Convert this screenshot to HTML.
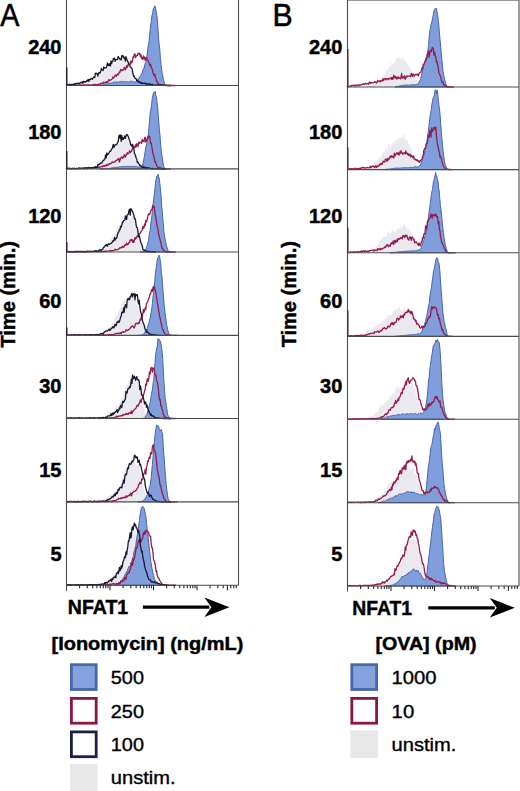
<!DOCTYPE html>
<html><head><meta charset="utf-8"><style>
html,body{margin:0;padding:0;background:#fff;width:520px;height:791px;overflow:hidden}
svg{display:block}
text{font-family:"Liberation Sans", sans-serif;fill:#000}
.b{font-weight:bold;stroke:#000;stroke-width:0.45px}
.r{stroke:#000;stroke-width:0.35px}
.lab{font-size:20px}
.tm{font-size:19.5px}
.nf{font-size:20px}
.lg{font-size:19px}
.lt{font-size:18px}
</style></head><body>
<svg width="520" height="791" viewBox="0 0 520 791">
<path d="M70,85.5 L70,85.5 70.6,85.5 71.2,85.3 71.8,85.2 72.4,85.3 73,85.1 73.6,84.7 74.2,84.7 74.8,84.7 75.4,84.6 76,85 76.6,84.2 77.2,85 77.8,84.5 78.4,84.4 79,84.8 79.6,84 80.2,83.1 80.8,83.8 81.4,84.1 82,83.4 82.6,82.7 83.2,82.9 83.8,82.8 84.4,83.5 85,82.1 85.6,81.9 86.2,81.1 86.8,80.8 87.4,81.1 88,82.5 88.6,82.1 89.2,81.5 89.8,80.1 90.4,80.6 91,78.5 91.6,79 92.2,78.5 92.8,77.8 93.4,77.7 94,79 94.6,74.7 95.2,75.3 95.8,74.7 96.4,76.7 97,77.5 97.6,76.8 98.2,75.9 98.8,73.2 99.4,72.7 100,71.5 100.6,70.2 101.2,71.7 101.8,71.4 102.4,71.9 103,71.3 103.6,72 104.2,69.2 104.8,69 105.4,69.5 106,69.6 106.6,67.2 107.2,65.5 107.8,66.8 108.4,66 109,66.7 109.6,65.7 110.2,65.3 110.8,64.6 111.4,64.5 112,62.3 112.6,60.2 113.2,63.4 113.8,58.9 114.4,61.5 115,61 115.6,63.8 116.2,64 116.8,58.2 117.4,61.3 118,57.7 118.6,59 119.2,58.5 119.8,56.4 120.4,58.8 121,64.5 121.6,61.7 122.2,56.7 122.8,54.9 123.4,58.8 124,60.1 124.6,61.8 125.2,58.8 125.8,63.5 126.4,63.1 127,61.4 127.6,62.2 128.2,63.8 128.8,62.6 129.4,67.4 130,68.3 130.6,68.3 131.2,69 131.8,71 132.4,69.5 133,74.2 133.6,74.3 134.2,77.1 134.8,77.7 135.4,79.8 136,80.8 136.6,80.2 137.2,82.4 137.8,81.9 138.4,83.9 139,84.2 139.6,84 140.2,85.5 140.8,85.5 141.4,85.3 142,85.5 L142,85.5 Z" fill="#eae9ef"/>
<path d="M95,85.5 L95,85.5 95.6,85.5 96.2,85.4 96.8,85.5 97.4,85.4 98,85.3 98.6,85.3 99.2,85.2 99.8,85.4 100.4,85 101,84.9 101.6,85.2 102.2,84.9 102.8,84.9 103.4,84.7 104,84.4 104.6,84.5 105.2,84.4 105.8,84 106.4,83.8 107,84 107.6,83.7 108.2,83.9 108.8,83.3 109.4,82.9 110,83.1 110.6,83.1 111.2,83.4 111.8,82.9 112.4,83.2 113,82.3 113.6,81.9 114.2,81.9 114.8,82.2 115.4,82 116,82.3 116.6,81.9 117.2,81.9 117.8,81.9 118.4,82.6 119,81.7 119.6,81.6 120.2,81.9 120.8,81.5 121.4,81.4 122,82.2 122.6,81.3 123.2,81.7 123.8,81.9 124.4,81.5 125,81.8 125.6,81.7 126.2,81.8 126.8,81.7 127.4,81.9 128,81.7 128.6,81.9 129.2,81.9 129.8,81.2 130.4,81.5 131,81.4 131.6,81 132.2,81.3 132.8,81.6 133.4,82.1 134,81.6 134.6,81.9 135.2,81.8 135.8,82.1 136.4,81.7 137,81.6 137.6,80 138.2,80 138.8,78.7 139.4,77.3 140,76.5 140.6,75.5 141.2,74.2 141.8,74.2 142.4,71.9 143,69.8 143.6,68.2 144.2,68.2 144.8,64.6 145.4,62.7 146,61.3 146.6,58.6 147.2,54 147.8,48.6 148.4,44.9 149,41.6 149.6,35.6 150.2,29.4 150.8,25 151.4,20.4 152,14.9 152.6,14.7 153.2,8.8 153.8,9 154.4,6 155,5.9 155.6,8.4 156.2,11.6 156.8,15.2 157.4,19.6 158,29.4 158.6,38.4 159.2,44.5 159.8,49.8 160.4,58.3 161,64.7 161.6,68.7 162.2,73.4 162.8,75.9 163.4,79.3 164,81.3 164.6,83.8 165.2,84.9 165.8,85.3 166.4,85.4 167,85.5 167.6,85.5 L167.6,85.5 Z" fill="#7f9edb" stroke="#4565ae" stroke-width="1" stroke-linejoin="round"/>
<path d="M66,85 66.6,85.4 67.2,85.1 67.8,85.4 68.4,85 69,85.5 69.6,85.3 70.2,85.3 70.8,85.5 71.4,85 72,85.4 72.6,85.4 73.2,85.3 73.8,85.1 74.4,85.3 75,84.8 75.6,85.2 76.2,85.2 76.8,85.1 77.4,85.2 78,85.3 78.6,85.2 79.2,85.1 79.8,84.8 80.4,85.1 81,85 81.6,85.5 82.2,85.2 82.8,85.1 83.4,84.8 84,84.8 84.6,85.1 85.2,85 85.8,85.1 86.4,85.2 87,85 87.6,85.1 88.2,85 88.8,84.9 89.4,85.1 90,84.8 90.6,85.2 91.2,85 91.8,84.9 92.4,85.3 93,84.8 93.6,84.7 94.2,84.4 94.8,84.8 95.4,84.6 96,84.5 96.6,85.1 97.2,84.5 97.8,84.9 98.4,84.4 99,84.1 99.6,84.1 100.2,84.8 100.8,83.3 101.4,83.6 102,83.1 102.6,83.6 103.2,83.3 103.8,82 104.4,82.9 105,82.8 105.6,82.6 106.2,81.6 106.8,82.8 107.4,81.9 108,82 108.6,79.6 109.2,80.1 109.8,80.4 110.4,79.9 111,79.8 111.6,79.6 112.2,78.9 112.8,76.9 113.4,78.1 114,77.6 114.6,76.6 115.2,75 115.8,75.3 116.4,76.3 117,74.6 117.6,74 118.2,74.8 118.8,73.6 119.4,71.9 120,72.2 120.6,69.3 121.2,70.3 121.8,70.7 122.4,69.8 123,70.3 123.6,69.5 124.2,67.3 124.8,67.8 125.4,69.8 126,68.6 126.6,65.6 127.2,67.5 127.8,66 128.4,63.7 129,65 129.6,64.5 130.2,64 130.8,61.1 131.4,62.9 132,62.8 132.6,60 133.2,56.5 133.8,57.2 134.4,54.1 135,54 135.6,57.7 136.2,55.6 136.8,55.8 137.4,55.5 138,53.5 138.6,53.1 139.2,54.2 139.8,53.4 140.4,56.6 141,54.8 141.6,58.3 142.2,57.7 142.8,59.6 143.4,55.9 144,58.7 144.6,57 145.2,60.4 145.8,58.2 146.4,57.5 147,59.1 147.6,59.7 148.2,60.8 148.8,62.3 149.4,63.9 150,65.7 150.6,64.4 151.2,67.1 151.8,68.5 152.4,69.6 153,72.9 153.6,74.4 154.2,75.7 154.8,74.2 155.4,77.6 156,78.3 156.6,81.4 157.2,81.7 157.8,82.9 158.4,84.2 159,84.1 159.6,84.8 160.2,84.9 160.8,84.8 161.4,84.8 162,85.1 162.6,85.3 163.2,85.3 163.8,85.1 164.4,85.5 165,85.5 165.6,85.5 166.2,85.3 166.8,85.4 167.4,85.5 168,85.5 168.6,85.5 169.2,85.5 169.8,85.5 170.4,85.5 171,85.5 171.6,85.5 172.2,85.5 172.8,85.5 173.4,85.5 174,85.5 174.6,85.5 175.2,85.5 175.8,85.5" fill="none" stroke="#961c4c" stroke-width="1.3" stroke-linejoin="round"/>
<path d="M66,84.9 66.6,84.8 67.2,85.1 67.8,84.9 68.4,84.8 69,84.8 69.6,84.1 70.2,84.8 70.8,84.7 71.4,84.7 72,84.2 72.6,84.6 73.2,84.4 73.8,84 74.4,84 75,84.5 75.6,83.4 76.2,83.9 76.8,83.5 77.4,83.7 78,82.9 78.6,83.7 79.2,83.8 79.8,83.1 80.4,82.5 81,83 81.6,82.4 82.2,81.8 82.8,83.3 83.4,81.5 84,81.4 84.6,82.2 85.2,81.7 85.8,81.8 86.4,80.7 87,81.4 87.6,80.3 88.2,79.4 88.8,81.5 89.4,79.5 90,79.5 90.6,79.5 91.2,78.3 91.8,78.4 92.4,79.3 93,78 93.6,77 94.2,77.3 94.8,77.5 95.4,73.1 96,73.7 96.6,73.4 97.2,74.2 97.8,76.2 98.4,73.8 99,72.4 99.6,73.1 100.2,72.8 100.8,71.1 101.4,68.4 102,70.1 102.6,69.8 103.2,70.5 103.8,67 104.4,68 105,68 105.6,67.9 106.2,67.8 106.8,66.2 107.4,63 108,65.4 108.6,64.2 109.2,65.7 109.8,63.6 110.4,65.8 111,60.9 111.6,63.5 112.2,61.4 112.8,61.4 113.4,58.5 114,59.1 114.6,58.2 115.2,61.3 115.8,59.9 116.4,59.7 117,59.5 117.6,59.3 118.2,56.3 118.8,58 119.4,57.9 120,59.5 120.6,59.4 121.2,59.9 121.8,55.4 122.4,56.8 123,55.7 123.6,56.6 124.2,58.7 124.8,57.4 125.4,61.2 126,56.7 126.6,59.1 127.2,60.3 127.8,61.9 128.4,62.2 129,64.3 129.6,64.8 130.2,66.9 130.8,67.4 131.4,67.8 132,68.5 132.6,71.8 133.2,74.6 133.8,76.6 134.4,76.3 135,78.4 135.6,78.6 136.2,78.7 136.8,81.2 137.4,80.1 138,80.6 138.6,82.4 139.2,82.3 139.8,81.8 140.4,83 141,83.3 141.6,82.5 142.2,83.4 142.8,83.6 143.4,83.1 144,83.5 144.6,83.5 145.2,83.1 145.8,83.3 146.4,84.6 147,83.6 147.6,84.1 148.2,84.1 148.8,84 149.4,83.7 150,84.1 150.6,84.5 151.2,84.4 151.8,85.1 152.4,84.5 153,84.7 153.6,85.1 154.2,85.2 154.8,85.2 155.4,85.1 156,84.8 156.6,85 157.2,85.2 157.8,85.1 158.4,84.8 159,85.1 159.6,85.3 160.2,84.7 160.8,85.3 161.4,85.1 162,85 162.6,85.2 163.2,85.3 163.8,85 164.4,85.3 165,85.2 165.6,85.3 166.2,85.1 166.8,85.5 167.4,85.5 168,85.5 168.6,85.4 169.2,85.5 169.8,85.5 170.4,85.5 171,85.5" fill="none" stroke="#171930" stroke-width="1.3" stroke-linejoin="round"/>
<path d="M75,168.9 L75,168.9 75.6,168.9 76.2,168.7 76.8,168.8 77.4,168.5 78,167.9 78.6,168.2 79.2,168.1 79.8,168.4 80.4,168.4 81,167.7 81.6,168.2 82.2,168.2 82.8,167.6 83.4,167.8 84,167.3 84.6,167.8 85.2,167 85.8,168.3 86.4,167.6 87,167.8 87.6,167 88.2,167.7 88.8,166.4 89.4,167.3 90,166.3 90.6,166.7 91.2,166 91.8,165.9 92.4,166.7 93,166.2 93.6,165.8 94.2,166 94.8,165.2 95.4,165 96,165.8 96.6,166.6 97.2,165.2 97.8,163.9 98.4,164.8 99,164.6 99.6,164.2 100.2,163.1 100.8,162 101.4,164.4 102,161.7 102.6,162.5 103.2,162.9 103.8,159.9 104.4,160.6 105,160.3 105.6,159.1 106.2,159.4 106.8,156.9 107.4,157.7 108,153.8 108.6,154.8 109.2,155.4 109.8,154.3 110.4,154.8 111,151.8 111.6,150.9 112.2,153.8 112.8,150 113.4,148.4 114,147.3 114.6,148.6 115.2,148.3 115.8,146.5 116.4,144.4 117,144 117.6,143.5 118.2,143.6 118.8,144 119.4,144.6 120,140.6 120.6,141.9 121.2,140.3 121.8,135.9 122.4,143.1 123,137.9 123.6,141.9 124.2,140.7 124.8,141.2 125.4,139.8 126,138.8 126.6,139.1 127.2,136.4 127.8,140.8 128.4,138.7 129,142.3 129.6,144.3 130.2,144.1 130.8,147.7 131.4,144.3 132,145.4 132.6,149.6 133.2,152.5 133.8,151 134.4,153.4 135,154.5 135.6,158.3 136.2,158.9 136.8,160.4 137.4,160.8 138,164.5 138.6,164.5 139.2,166.5 139.8,167.1 140.4,167.3 141,168.7 141.6,168.9 142.2,168.8 142.8,168.9 L142.8,168.9 Z" fill="#eae9ef"/>
<path d="M100,168.9 L100,168.9 100.6,168.9 101.2,168.9 101.8,168.8 102.4,168.9 103,168.7 103.6,168.8 104.2,168.7 104.8,168.7 105.4,168.4 106,168.5 106.6,168.6 107.2,168.5 107.8,168.5 108.4,168.5 109,168.3 109.6,168.4 110.2,168 110.8,168.3 111.4,167.9 112,167.7 112.6,167.7 113.2,167.3 113.8,167.5 114.4,167.3 115,167.5 115.6,167 116.2,167.7 116.8,167.1 117.4,167.3 118,166.8 118.6,167.1 119.2,166.9 119.8,166.7 120.4,166.9 121,166.6 121.6,166.4 122.2,166.6 122.8,166.6 123.4,166.4 124,166 124.6,166.6 125.2,166.2 125.8,166.9 126.4,166.6 127,166.4 127.6,166.2 128.2,166.5 128.8,166.3 129.4,166.7 130,166.6 130.6,166.2 131.2,166.4 131.8,166.4 132.4,166.7 133,166 133.6,166.1 134.2,166.4 134.8,166.3 135.4,166.7 136,166.3 136.6,166.5 137.2,166.7 137.8,167.2 138.4,167 139,167.2 139.6,166.8 140.2,167.2 140.8,166.8 141.4,167 142,167.1 142.6,165.8 143.2,162.7 143.8,159.1 144.4,156.7 145,152.2 145.6,149 146.2,146 146.8,143.7 147.4,140.4 148,136.2 148.6,131.3 149.2,124.9 149.8,117.4 150.4,111.8 151,109 151.6,104.6 152.2,98.5 152.8,96.1 153.4,92.8 154,92.2 154.6,92.4 155.2,91.3 155.8,96 156.4,96.5 157,102.2 157.6,106.6 158.2,114.6 158.8,122 159.4,129.8 160,135.7 160.6,144.2 161.2,150.1 161.8,154.7 162.4,158.1 163,162.8 163.6,165.9 164.2,167.7 164.8,168.2 165.4,168.7 166,168.9 L166,168.9 Z" fill="#7f9edb" stroke="#4565ae" stroke-width="1" stroke-linejoin="round"/>
<path d="M66,168.3 66.6,168.5 67.2,168.6 67.8,168.9 68.4,168.4 69,168.2 69.6,168.2 70.2,168.5 70.8,168.7 71.4,168.4 72,168.9 72.6,168.6 73.2,168.4 73.8,168.4 74.4,168.4 75,168.8 75.6,168.9 76.2,168.4 76.8,168.3 77.4,168.5 78,168.7 78.6,168.4 79.2,168.1 79.8,168.4 80.4,168.6 81,167.9 81.6,168.1 82.2,168.4 82.8,168.3 83.4,168.5 84,167.9 84.6,168.4 85.2,168.5 85.8,168.2 86.4,167.6 87,168.9 87.6,168.5 88.2,167.9 88.8,168 89.4,168 90,168 90.6,168.1 91.2,167.8 91.8,167.8 92.4,168 93,168.2 93.6,168 94.2,168.3 94.8,167.5 95.4,167.7 96,167.3 96.6,167 97.2,167.5 97.8,167.1 98.4,167.4 99,166.9 99.6,167.5 100.2,166.9 100.8,166.9 101.4,166.4 102,166.4 102.6,166.9 103.2,165.4 103.8,166 104.4,166.3 105,165.3 105.6,165.9 106.2,166 106.8,164.4 107.4,164.6 108,165.4 108.6,164.6 109.2,163.6 109.8,164 110.4,163.5 111,163.7 111.6,162.8 112.2,161.9 112.8,162.3 113.4,162.6 114,162.4 114.6,161.5 115.2,161.6 115.8,160.6 116.4,160.3 117,159.9 117.6,159.8 118.2,158.8 118.8,158.3 119.4,162.1 120,160.3 120.6,158.2 121.2,157.3 121.8,156.8 122.4,158.3 123,157.3 123.6,157.5 124.2,154.7 124.8,155.5 125.4,157.2 126,154.7 126.6,154.8 127.2,152.6 127.8,153.9 128.4,153.5 129,152.9 129.6,150.6 130.2,152.6 130.8,151.6 131.4,151.4 132,150.3 132.6,148.1 133.2,148.3 133.8,146.3 134.4,147.3 135,147.7 135.6,144.8 136.2,146.8 136.8,143.6 137.4,145 138,146.6 138.6,142.5 139.2,143.7 139.8,142.4 140.4,142.1 141,142.5 141.6,143.3 142.2,139.5 142.8,141.3 143.4,140.5 144,141.9 144.6,137.9 145.2,137.2 145.8,142.2 146.4,141.2 147,139 147.6,137.6 148.2,136.7 148.8,137.8 149.4,135.8 150,138.1 150.6,143.4 151.2,143 151.8,146.6 152.4,150.1 153,154 153.6,155.1 154.2,158.3 154.8,161.9 155.4,161.5 156,163.8 156.6,165.1 157.2,166.7 157.8,167.1 158.4,167.5 159,167.4 159.6,167.8 160.2,168.2 160.8,167.6 161.4,168.6 162,168.9 162.6,168.5 163.2,168.9 163.8,168.9 164.4,168.9 165,168.9 165.6,168.9 166.2,168.9 166.8,168.9 167.4,168.9 168,168.9 168.6,168.9 169.2,168.9 169.8,168.9 170.4,168.9 171,168.9" fill="none" stroke="#961c4c" stroke-width="1.3" stroke-linejoin="round"/>
<path d="M66,168.8 66.6,168.6 67.2,168.8 67.8,168.4 68.4,168.4 69,168.6 69.6,168.7 70.2,168.6 70.8,168.6 71.4,168.7 72,168.6 72.6,168.5 73.2,168.4 73.8,168.4 74.4,168.7 75,168.9 75.6,168.7 76.2,168.6 76.8,168.3 77.4,168.5 78,168.8 78.6,168.2 79.2,168.2 79.8,168.4 80.4,168.7 81,168.5 81.6,168.3 82.2,168.3 82.8,168.5 83.4,168.5 84,167.9 84.6,168.7 85.2,167.8 85.8,168.5 86.4,167.8 87,168 87.6,167.9 88.2,168 88.8,167.5 89.4,167.8 90,167.9 90.6,168.3 91.2,167.7 91.8,167.7 92.4,167.9 93,168 93.6,167.5 94.2,167.4 94.8,167.5 95.4,166.7 96,166.8 96.6,167.5 97.2,166.8 97.8,164.6 98.4,165 99,164.2 99.6,164.4 100.2,163.4 100.8,162.9 101.4,163.1 102,162.8 102.6,161.1 103.2,160.4 103.8,160.5 104.4,158.9 105,158.9 105.6,154.8 106.2,157.9 106.8,152.8 107.4,155.1 108,154 108.6,153.9 109.2,152.5 109.8,151.2 110.4,151.4 111,150.7 111.6,149.3 112.2,148.4 112.8,146.3 113.4,144.3 114,147.6 114.6,145.2 115.2,145 115.8,145 116.4,144.4 117,144 117.6,142.6 118.2,141.6 118.8,136.6 119.4,135.1 120,138.1 120.6,134.9 121.2,141.4 121.8,135.3 122.4,139.5 123,137.8 123.6,139.4 124.2,137.6 124.8,136 125.4,138.3 126,136.1 126.6,134.6 127.2,134.7 127.8,135.7 128.4,136.8 129,139 129.6,140.2 130.2,142.4 130.8,145 131.4,144.9 132,146.3 132.6,144.3 133.2,148.1 133.8,148.5 134.4,152.9 135,154.4 135.6,156 136.2,158.2 136.8,159.3 137.4,162.7 138,162.1 138.6,163 139.2,164.4 139.8,165.5 140.4,165.4 141,166 141.6,167.1 142.2,166.3 142.8,167.6 143.4,167.3 144,166.8 144.6,167.5 145.2,168.2 145.8,167.3 146.4,168.5 147,167.9 147.6,168.2 148.2,167.7 148.8,168 149.4,168.1 150,168.4 150.6,168.4 151.2,168.8 151.8,168.8 152.4,168.5 153,168.5 153.6,168.9 154.2,168.7 154.8,168.7 155.4,168.6 156,168.8 156.6,168.8 157.2,168.8 157.8,168.8 158.4,168.9 159,168.9 159.6,168.9 160.2,168.9 160.8,168.9 161.4,168.9 162,168.9 162.6,168.9 163.2,168.9 163.8,168.9 164.4,168.9 165,168.9 165.6,168.9" fill="none" stroke="#171930" stroke-width="1.3" stroke-linejoin="round"/>
<path d="M92,252 L92,252 92.6,252 93.2,251.7 93.8,251.8 94.4,251 95,251 95.6,250.7 96.2,250.9 96.8,249.5 97.4,250.4 98,250.3 98.6,249.3 99.2,250.3 99.8,249.6 100.4,248.2 101,248.9 101.6,249.4 102.2,247.4 102.8,246.2 103.4,246.6 104,245.1 104.6,246.1 105.2,246.6 105.8,245.2 106.4,244.1 107,243.9 107.6,243.3 108.2,242.3 108.8,240.9 109.4,242.3 110,240.6 110.6,240.5 111.2,239.1 111.8,238.1 112.4,236.6 113,237.7 113.6,236.9 114.2,235.4 114.8,233.4 115.4,233.2 116,232.4 116.6,227.9 117.2,232 117.8,226.5 118.4,227.7 119,227.1 119.6,225.5 120.2,220.6 120.8,226.2 121.4,223.2 122,222.6 122.6,220.6 123.2,225.2 123.8,217.7 124.4,221.2 125,214.7 125.6,218.7 126.2,218 126.8,219.2 127.4,217.3 128,213.9 128.6,215.3 129.2,216.1 129.8,218.4 130.4,219.7 131,214.1 131.6,210.7 132.2,216 132.8,214.8 133.4,219.3 134,219 134.6,223.6 135.2,221.3 135.8,228.3 136.4,227.9 137,228.4 137.6,231.3 138.2,234.2 138.8,233.8 139.4,239.5 140,239.7 140.6,241.5 141.2,242.8 141.8,243.7 142.4,246.7 143,248.8 143.6,250.1 144.2,250.8 144.8,251.1 145.4,251.8 146,252 L146,252 Z" fill="#eae9ef"/>
<path d="M140,252 L140,252 140.6,252 141.2,252 141.8,251.9 142.4,251.9 143,251.8 143.6,251.7 144.2,251.5 144.8,251.2 145.4,250.1 146,248.7 146.6,247.1 147.2,245.3 147.8,243.1 148.4,241.2 149,236.6 149.6,232.2 150.2,230.5 150.8,222.9 151.4,220 152,214.4 152.6,207.1 153.2,203 153.8,198.2 154.4,193.9 155,188.6 155.6,181.8 156.2,179 156.8,176.2 157.4,176.1 158,174.2 158.6,178.3 159.2,177.9 159.8,183.6 160.4,188.5 161,194.8 161.6,205.7 162.2,210.6 162.8,218.1 163.4,225.5 164,232.5 164.6,236 165.2,240.1 165.8,242.4 166.4,245.3 167,247.4 167.6,249.1 168.2,250.7 168.8,251.6 169.4,251.8 170,251.9 170.6,252 L170.6,252 Z" fill="#7f9edb" stroke="#4565ae" stroke-width="1" stroke-linejoin="round"/>
<path d="M66,251.9 66.6,251.8 67.2,251.5 67.8,251.7 68.4,251.5 69,251.6 69.6,251.8 70.2,251.6 70.8,251.7 71.4,251.7 72,251.7 72.6,251.9 73.2,251.5 73.8,251.8 74.4,251.5 75,251.7 75.6,251.4 76.2,251.8 76.8,251.7 77.4,251.6 78,252 78.6,251.5 79.2,251.4 79.8,251.5 80.4,251.5 81,251.7 81.6,251.4 82.2,251.5 82.8,251.6 83.4,251.6 84,251.7 84.6,251.9 85.2,251.4 85.8,252 86.4,251.7 87,251.6 87.6,251.5 88.2,251.3 88.8,251.4 89.4,251.7 90,251.5 90.6,251.8 91.2,251.3 91.8,251.6 92.4,251.7 93,251.7 93.6,251.6 94.2,251.6 94.8,251.1 95.4,251.7 96,251.5 96.6,251.5 97.2,251.5 97.8,251.5 98.4,251.6 99,251.6 99.6,251.7 100.2,251.8 100.8,251.4 101.4,251.3 102,251.6 102.6,251.6 103.2,251.5 103.8,251.5 104.4,251.7 105,251 105.6,251.2 106.2,251.5 106.8,251.2 107.4,251.3 108,251.2 108.6,251 109.2,250.8 109.8,250.6 110.4,250.4 111,251 111.6,251 112.2,250.7 112.8,250.5 113.4,250.7 114,250.5 114.6,249.8 115.2,249.3 115.8,249.9 116.4,249.9 117,249.6 117.6,249.7 118.2,249.2 118.8,248.6 119.4,248.7 120,247.7 120.6,248 121.2,247.5 121.8,247.6 122.4,246.3 123,247.7 123.6,246.7 124.2,246.9 124.8,245.1 125.4,244.6 126,245.3 126.6,243.1 127.2,244.3 127.8,244.9 128.4,243.5 129,242.5 129.6,242.7 130.2,239.9 130.8,240.8 131.4,239.5 132,239.5 132.6,242.2 133.2,240.4 133.8,242.5 134.4,239.9 135,237.5 135.6,239.2 136.2,238.4 136.8,236.8 137.4,235.7 138,236.4 138.6,235.7 139.2,233.6 139.8,233.5 140.4,233.4 141,231.7 141.6,231.1 142.2,229.8 142.8,226.3 143.4,228.6 144,227.9 144.6,223.8 145.2,225.7 145.8,220.5 146.4,222 147,220.1 147.6,217.3 148.2,214.9 148.8,213.8 149.4,214.7 150,213.7 150.6,211 151.2,210 151.8,210.2 152.4,207.2 153,205.5 153.6,207.6 154.2,206.7 154.8,211.8 155.4,216 156,218.5 156.6,222.7 157.2,226.8 157.8,228 158.4,233.3 159,235.5 159.6,237.9 160.2,240.2 160.8,242.7 161.4,245.3 162,248.4 162.6,248.5 163.2,249.9 163.8,250.5 164.4,250.9 165,251.3 165.6,251.6 166.2,251.6 166.8,252 167.4,251.8 168,251.9 168.6,252 169.2,252 169.8,252 170.4,252 171,252 171.6,252 172.2,252 172.8,252 173.4,252 174,252 174.6,252 175.2,252 175.8,252" fill="none" stroke="#961c4c" stroke-width="1.3" stroke-linejoin="round"/>
<path d="M66,251.8 66.6,251.8 67.2,251.9 67.8,251.9 68.4,251.6 69,251.6 69.6,251.9 70.2,251.5 70.8,251.8 71.4,251.5 72,251.9 72.6,251.6 73.2,252 73.8,251.7 74.4,251.5 75,251.7 75.6,251.8 76.2,251.5 76.8,251.5 77.4,251.6 78,251.4 78.6,251.6 79.2,251.7 79.8,251.6 80.4,251.6 81,251.9 81.6,251.7 82.2,251.8 82.8,251.9 83.4,252 84,251.8 84.6,251.3 85.2,251.7 85.8,252 86.4,251.8 87,251.2 87.6,251.4 88.2,251.6 88.8,251.4 89.4,251.6 90,251.5 90.6,251.3 91.2,251.3 91.8,251.5 92.4,251.3 93,251.5 93.6,251.4 94.2,251.3 94.8,250.8 95.4,251.2 96,250.8 96.6,250.9 97.2,251.6 97.8,250.9 98.4,251.3 99,250.5 99.6,250 100.2,249.9 100.8,250.9 101.4,249.7 102,249.6 102.6,249.4 103.2,248.1 103.8,247.6 104.4,246.7 105,245.8 105.6,245.6 106.2,244.5 106.8,245.1 107.4,246.3 108,244.2 108.6,243.8 109.2,244.3 109.8,244 110.4,243.6 111,243.6 111.6,243.1 112.2,242.1 112.8,240.9 113.4,241.3 114,240 114.6,237.3 115.2,240.1 115.8,238.4 116.4,238.4 117,237.1 117.6,233.9 118.2,232.4 118.8,232 119.4,229.6 120,229.8 120.6,226.4 121.2,227 121.8,225.1 122.4,222.1 123,222.6 123.6,220.5 124.2,220.3 124.8,220.2 125.4,215.9 126,217.8 126.6,219.4 127.2,214.9 127.8,214.6 128.4,214.2 129,210.1 129.6,209.3 130.2,215.1 130.8,208.6 131.4,209.6 132,210.7 132.6,211.2 133.2,213.6 133.8,214.9 134.4,218.6 135,218.5 135.6,220.5 136.2,225.7 136.8,227.5 137.4,227.9 138,232.7 138.6,236.8 139.2,235.5 139.8,238 140.4,240.6 141,243 141.6,243.9 142.2,245.8 142.8,248.7 143.4,250.1 144,249.7 144.6,250.6 145.2,251.1 145.8,251.1 146.4,251.5 147,251.3 147.6,251.6 148.2,251.1 148.8,251.7 149.4,251.6 150,251.4 150.6,251.6 151.2,251.7 151.8,251.8 152.4,251.7 153,251.7 153.6,251.8 154.2,252 154.8,252 155.4,252 156,252" fill="none" stroke="#171930" stroke-width="1.3" stroke-linejoin="round"/>
<path d="M98,335.4 L98,334.9 98.6,334.5 99.2,334.9 99.8,334.6 100.4,333.5 101,333.6 101.6,333.9 102.2,333 102.8,333.1 103.4,332.7 104,332.2 104.6,332.8 105.2,332.5 105.8,331 106.4,328.3 107,328.6 107.6,329.5 108.2,330.7 108.8,325.6 109.4,327.2 110,325.8 110.6,325.5 111.2,324.1 111.8,324.4 112.4,321.2 113,323.3 113.6,321.6 114.2,319.2 114.8,317.8 115.4,315.5 116,314.7 116.6,315.4 117.2,317 117.8,314 118.4,312.8 119,310.6 119.6,309.4 120.2,307.9 120.8,306.5 121.4,302.7 122,304 122.6,299.8 123.2,301.2 123.8,300.9 124.4,299.9 125,299.2 125.6,301.5 126.2,297.8 126.8,299.8 127.4,298.6 128,297.6 128.6,295.4 129.2,298.6 129.8,298.6 130.4,300.3 131,295.8 131.6,297.3 132.2,297.1 132.8,299.6 133.4,296 134,296.9 134.6,298.7 135.2,302.1 135.8,300.6 136.4,302.8 137,306.1 137.6,307 138.2,304.7 138.8,309.1 139.4,312.5 140,312 140.6,312.9 141.2,314.5 141.8,320.3 142.4,321.3 143,322.3 143.6,325.4 144.2,326.7 144.8,329.9 145.4,331.3 146,330.2 146.6,332.5 147.2,333.7 147.8,334.4 148.4,335.1 149,335.4 L149,335.4 Z" fill="#eae9ef"/>
<path d="M138,335.4 L138,335.4 138.6,335.4 139.2,335.4 139.8,335.3 140.4,335.2 141,335.2 141.6,335 142.2,335 142.8,334.8 143.4,334 144,333.9 144.6,332.8 145.2,331.4 145.8,330.9 146.4,330.4 147,328.9 147.6,326.9 148.2,324.6 148.8,324 149.4,321 150,318.5 150.6,315.1 151.2,312.2 151.8,308.3 152.4,303.5 153,297 153.6,292.1 154.2,286.9 154.8,280.9 155.4,273.2 156,269.2 156.6,265.4 157.2,259.9 157.8,257.7 158.4,257.2 159,255.2 159.6,256.4 160.2,260.2 160.8,263.9 161.4,273.3 162,276.3 162.6,286.2 163.2,292.8 163.8,300.9 164.4,307.9 165,312.3 165.6,317.2 166.2,321.1 166.8,325.8 167.4,328.1 168,330.8 168.6,332.9 169.2,334.2 169.8,334.9 170.4,335.2 171,335.3 171.6,335.4 L171.6,335.4 Z" fill="#7f9edb" stroke="#4565ae" stroke-width="1" stroke-linejoin="round"/>
<path d="M66,335.3 66.6,335.1 67.2,335.3 67.8,335.3 68.4,334.9 69,335 69.6,335.3 70.2,335.4 70.8,334.9 71.4,334.9 72,335.1 72.6,335.2 73.2,334.9 73.8,334.6 74.4,334.8 75,335.1 75.6,335 76.2,335.3 76.8,335.4 77.4,335 78,335.1 78.6,334.7 79.2,335.1 79.8,334.8 80.4,334.9 81,335.3 81.6,335.1 82.2,335.1 82.8,335.3 83.4,335 84,335.1 84.6,335.2 85.2,335 85.8,335.1 86.4,335 87,335.1 87.6,335.1 88.2,335 88.8,335 89.4,335.1 90,334.8 90.6,335 91.2,335.1 91.8,335.2 92.4,335.4 93,335.2 93.6,335 94.2,335 94.8,334.9 95.4,335.1 96,334.7 96.6,335.4 97.2,334.9 97.8,335.3 98.4,334.7 99,334.8 99.6,335.2 100.2,335.2 100.8,334.8 101.4,334.9 102,335 102.6,335.1 103.2,334.9 103.8,335.1 104.4,335.1 105,335.2 105.6,334.9 106.2,335 106.8,335.1 107.4,335.1 108,335 108.6,335.1 109.2,334.6 109.8,334.8 110.4,335 111,334.5 111.6,335.1 112.2,334.6 112.8,334.6 113.4,334.7 114,334.1 114.6,334.1 115.2,334.1 115.8,333.3 116.4,333.7 117,333.5 117.6,333.6 118.2,333.7 118.8,332.9 119.4,333.6 120,333.4 120.6,332.7 121.2,333.7 121.8,332.2 122.4,332 123,331.6 123.6,332.4 124.2,331.8 124.8,332 125.4,331.7 126,329.8 126.6,330.1 127.2,330.6 127.8,330.5 128.4,329.6 129,329.5 129.6,328.9 130.2,328.1 130.8,327 131.4,327.2 132,326.2 132.6,325.8 133.2,326.4 133.8,327.8 134.4,327.9 135,325.6 135.6,323.5 136.2,323.5 136.8,323.2 137.4,323.8 138,323.8 138.6,322.5 139.2,323.2 139.8,320.6 140.4,319.1 141,319.9 141.6,315.3 142.2,317.2 142.8,313.8 143.4,309.5 144,312.4 144.6,310.6 145.2,308 145.8,309.4 146.4,303.7 147,302.9 147.6,302 148.2,299.7 148.8,298.6 149.4,296.9 150,293.8 150.6,293.8 151.2,291.2 151.8,289.6 152.4,291.3 153,287.2 153.6,289.5 154.2,286 154.8,289.3 155.4,290.3 156,293.5 156.6,297.6 157.2,301.8 157.8,304.7 158.4,308.7 159,312.6 159.6,316.4 160.2,318.2 160.8,322.5 161.4,323.3 162,327.6 162.6,329.3 163.2,329.8 163.8,332.3 164.4,332.9 165,334 165.6,334.3 166.2,334.9 166.8,334.8 167.4,335 168,335.1 168.6,335.2 169.2,335.3 169.8,335.3 170.4,335.4 171,335.4 171.6,335.4 172.2,335.4 172.8,335.4 173.4,335.4 174,335.4 174.6,335.4 175.2,335.4 175.8,335.4 176.4,335.4 177,335.4 177.6,335.4" fill="none" stroke="#961c4c" stroke-width="1.3" stroke-linejoin="round"/>
<path d="M66,334.9 66.6,335.1 67.2,335 67.8,335.2 68.4,335.2 69,335.3 69.6,335.1 70.2,335.1 70.8,335.3 71.4,335 72,335.4 72.6,335.3 73.2,335.3 73.8,335 74.4,335.1 75,334.9 75.6,335.2 76.2,335.3 76.8,334.8 77.4,335.3 78,335 78.6,334.8 79.2,334.8 79.8,335.2 80.4,335.4 81,335.1 81.6,335 82.2,335.2 82.8,335.4 83.4,335.1 84,335.4 84.6,334.9 85.2,334.6 85.8,335.1 86.4,334.9 87,335.2 87.6,335.2 88.2,335 88.8,335.1 89.4,334.8 90,335 90.6,334.7 91.2,334.9 91.8,335.1 92.4,334.7 93,334.9 93.6,335.2 94.2,335.1 94.8,335.3 95.4,334.5 96,334.7 96.6,334.5 97.2,334.6 97.8,335 98.4,334.5 99,334.5 99.6,334.7 100.2,334 100.8,333.5 101.4,333.3 102,333.5 102.6,333.5 103.2,334.2 103.8,332.7 104.4,332 105,331.6 105.6,331.2 106.2,330.8 106.8,331 107.4,331.1 108,330.5 108.6,329.6 109.2,329.2 109.8,330.4 110.4,330 111,328.8 111.6,328.2 112.2,327.9 112.8,326.6 113.4,327.6 114,327.9 114.6,325.3 115.2,324.4 115.8,325.8 116.4,324.9 117,322.1 117.6,322.4 118.2,321 118.8,322.3 119.4,321.9 120,319.7 120.6,317.1 121.2,316.4 121.8,312.3 122.4,312.1 123,312.7 123.6,307.8 124.2,312.1 124.8,306.8 125.4,304.6 126,304.8 126.6,307.8 127.2,300.2 127.8,298.7 128.4,299.8 129,298.2 129.6,299.7 130.2,296.3 130.8,296.8 131.4,294.1 132,293.3 132.6,296.9 133.2,294.3 133.8,293.6 134.4,293.9 135,299.9 135.6,294.2 136.2,295.6 136.8,294.7 137.4,294.8 138,301.3 138.6,303.9 139.2,300.2 139.8,306.1 140.4,311 141,312.7 141.6,314.2 142.2,318.8 142.8,321.9 143.4,323.2 144,324.7 144.6,327 145.2,329.6 145.8,329.6 146.4,332.1 147,330.9 147.6,332.3 148.2,332.7 148.8,333.2 149.4,334 150,334.1 150.6,334.4 151.2,334.3 151.8,334.5 152.4,334.6 153,335.3 153.6,334.7 154.2,334.6 154.8,334.9 155.4,335.2 156,335.1 156.6,335.1 157.2,335.3 157.8,335.3 158.4,335.3 159,335.4 159.6,335.3 160.2,335.4 160.8,335.4" fill="none" stroke="#171930" stroke-width="1.3" stroke-linejoin="round"/>
<path d="M97,418.5 L97,418.5 97.6,418.1 98.2,418.2 98.8,418.2 99.4,418 100,417.9 100.6,417.4 101.2,416.9 101.8,417.3 102.4,417.1 103,416.3 103.6,416.3 104.2,415.3 104.8,416.6 105.4,414.7 106,415.1 106.6,415 107.2,415.8 107.8,413.9 108.4,413.6 109,412.6 109.6,412.1 110.2,413.2 110.8,410.6 111.4,412.8 112,411.5 112.6,412.2 113.2,412.7 113.8,410.9 114.4,409.6 115,408.1 115.6,409.3 116.2,407.3 116.8,406.1 117.4,406.1 118,405.2 118.6,406.2 119.2,402.6 119.8,403.1 120.4,402.2 121,398 121.6,396 122.2,397.4 122.8,397.9 123.4,390.7 124,390.5 124.6,391.8 125.2,389.6 125.8,386.5 126.4,384 127,386.2 127.6,384.8 128.2,384 128.8,383.2 129.4,380.7 130,381.3 130.6,377.8 131.2,379.9 131.8,375.5 132.4,381.8 133,377.8 133.6,377.2 134.2,380 134.8,379.5 135.4,382.2 136,380.9 136.6,387.4 137.2,381.5 137.8,380.7 138.4,382.2 139,387.3 139.6,387.2 140.2,390.4 140.8,391.5 141.4,393.3 142,397.6 142.6,401.1 143.2,402.3 143.8,408.6 144.4,407.1 145,410.5 145.6,413.3 146.2,415.6 146.8,415.5 147.4,417.3 148,417.5 148.6,418.3 L148.6,418.5 Z" fill="#eae9ef"/>
<path d="M140,418.5 L140,418.5 140.6,418.5 141.2,418.5 141.8,418.4 142.4,418.3 143,418.3 143.6,418.3 144.2,418 144.8,417.5 145.4,417 146,415.8 146.6,414.6 147.2,413.3 147.8,411.1 148.4,408.5 149,406.2 149.6,404.5 150.2,402.3 150.8,398.4 151.4,394.6 152,391.3 152.6,388.1 153.2,382.5 153.8,379.9 154.4,370.4 155,362.9 155.6,354.6 156.2,351.2 156.8,347.9 157.4,346.1 158,338.6 158.6,340.3 159.2,339.5 159.8,340.5 160.4,341.3 161,344.2 161.6,347.6 162.2,352.4 162.8,359.9 163.4,372.3 164,382.6 164.6,390.7 165.2,398.4 165.8,401.9 166.4,406.6 167,409.7 167.6,414.5 168.2,415.9 168.8,417.1 169.4,417.7 170,418.2 170.6,418.3 171.2,418.4 171.8,418.5 L171.8,418.5 Z" fill="#7f9edb" stroke="#4565ae" stroke-width="1" stroke-linejoin="round"/>
<path d="M66,418.4 66.6,418 67.2,418.2 67.8,418.1 68.4,418.5 69,418.2 69.6,418.2 70.2,417.9 70.8,418.4 71.4,418.2 72,418.5 72.6,418.2 73.2,418.3 73.8,418.4 74.4,418.5 75,418 75.6,418.1 76.2,418.3 76.8,418.1 77.4,418.3 78,418.4 78.6,417.9 79.2,417.9 79.8,418 80.4,418.1 81,418.1 81.6,418 82.2,418.1 82.8,418.1 83.4,418.1 84,418.1 84.6,418.1 85.2,418 85.8,418 86.4,418.1 87,418.2 87.6,418.4 88.2,418.2 88.8,418.3 89.4,417.6 90,418 90.6,418 91.2,418.1 91.8,418.2 92.4,418.1 93,418.5 93.6,417.9 94.2,418.2 94.8,418.2 95.4,418.2 96,418.2 96.6,418.1 97.2,418.1 97.8,418.4 98.4,418 99,418.4 99.6,418.2 100.2,418 100.8,418.2 101.4,418.1 102,418.2 102.6,417.8 103.2,418.1 103.8,417.8 104.4,417.9 105,418.2 105.6,417.9 106.2,418.5 106.8,418.4 107.4,418 108,418.2 108.6,418.2 109.2,417.7 109.8,418.3 110.4,417.8 111,417.9 111.6,417.8 112.2,417.9 112.8,418.3 113.4,417.7 114,417.9 114.6,417.7 115.2,417.3 115.8,416.5 116.4,416.2 117,417.1 117.6,416.4 118.2,416.8 118.8,415.9 119.4,416.1 120,416.2 120.6,415.8 121.2,415.6 121.8,415.9 122.4,415.9 123,414.3 123.6,415.1 124.2,415.1 124.8,414.6 125.4,414.4 126,413.4 126.6,414.2 127.2,413.6 127.8,414.4 128.4,414.1 129,412.7 129.6,413.2 130.2,412.7 130.8,413.4 131.4,410.9 132,413.5 132.6,411.7 133.2,411.3 133.8,410.1 134.4,409.7 135,409 135.6,408.5 136.2,407.9 136.8,405.7 137.4,405.2 138,406.2 138.6,404.6 139.2,403.7 139.8,401.9 140.4,399.8 141,402.4 141.6,399.8 142.2,398.9 142.8,396.3 143.4,395.1 144,393.3 144.6,391 145.2,389 145.8,383.8 146.4,385.5 147,380.1 147.6,378.6 148.2,381.4 148.8,378.8 149.4,372 150,374.5 150.6,370.1 151.2,367.5 151.8,368.2 152.4,372.1 153,367.6 153.6,368.8 154.2,369.1 154.8,373.4 155.4,375 156,375 156.6,380.5 157.2,381.9 157.8,384 158.4,389.2 159,396.2 159.6,400.1 160.2,399.4 160.8,405.8 161.4,405.7 162,409.6 162.6,409.7 163.2,414.5 163.8,414.7 164.4,416.4 165,417.7 165.6,417.3 166.2,418 166.8,418.3 167.4,418.1 168,418.2 168.6,418.5 169.2,418.4 169.8,418.5 170.4,418.5 171,418.5 171.6,418.5 172.2,418.5 172.8,418.5 173.4,418.5 174,418.5 174.6,418.5 175.2,418.5 175.8,418.5" fill="none" stroke="#961c4c" stroke-width="1.3" stroke-linejoin="round"/>
<path d="M66,418.3 66.6,418.3 67.2,418.2 67.8,418.1 68.4,418.2 69,418.1 69.6,418.4 70.2,418 70.8,417.9 71.4,418.1 72,418.3 72.6,418.2 73.2,418.2 73.8,418 74.4,418.1 75,418 75.6,418.3 76.2,418.3 76.8,418.3 77.4,418.2 78,417.9 78.6,418.3 79.2,417.8 79.8,418.4 80.4,418.2 81,418.3 81.6,418.4 82.2,418.1 82.8,418 83.4,418.3 84,418.5 84.6,418.4 85.2,418.3 85.8,418.2 86.4,418.3 87,418 87.6,418.1 88.2,418.1 88.8,418.3 89.4,418.1 90,417.9 90.6,418 91.2,418 91.8,418.2 92.4,418.2 93,418.5 93.6,417.9 94.2,418 94.8,417.8 95.4,418 96,418.5 96.6,418.3 97.2,418 97.8,418.1 98.4,418 99,417.9 99.6,418.5 100.2,417.7 100.8,418 101.4,418.2 102,417.4 102.6,417.9 103.2,417.5 103.8,417.8 104.4,417.8 105,417.6 105.6,417.8 106.2,416.9 106.8,417.3 107.4,416.7 108,415.8 108.6,415.9 109.2,415.9 109.8,415.8 110.4,415.5 111,413.7 111.6,415.6 112.2,414.8 112.8,412.9 113.4,414.3 114,412.8 114.6,413 115.2,411.9 115.8,411.9 116.4,411 117,409.6 117.6,412.6 118.2,410.5 118.8,410.4 119.4,407.9 120,408.7 120.6,405.3 121.2,406.3 121.8,407.6 122.4,402.5 123,401.2 123.6,402.5 124.2,401.2 124.8,400 125.4,399.1 126,391.5 126.6,393.7 127.2,392.5 127.8,388.9 128.4,388.4 129,388.7 129.6,386.6 130.2,387.5 130.8,384.7 131.4,379.2 132,383.3 132.6,375 133.2,378.8 133.8,378.1 134.4,376.1 135,377.8 135.6,380.4 136.2,378.2 136.8,376.6 137.4,379.6 138,380.1 138.6,379.8 139.2,381.5 139.8,389.5 140.4,386 141,388.9 141.6,395.1 142.2,395.1 142.8,395.1 143.4,397.9 144,400.6 144.6,403.9 145.2,401.9 145.8,402.7 146.4,407.2 147,404.8 147.6,408.4 148.2,409.3 148.8,412.2 149.4,411.8 150,414.2 150.6,415.2 151.2,414 151.8,415.9 152.4,415.6 153,416.5 153.6,416.1 154.2,416.8 154.8,417.7 155.4,417.6 156,418.1 156.6,418 157.2,417.9 157.8,417.9 158.4,418.4 159,418 159.6,418.5 160.2,418.3 160.8,418.3 161.4,418.3 162,418.4 162.6,418.5 163.2,418.5 163.8,418.4 164.4,418.5 165,418.5 165.6,418.5 166.2,418.5 166.8,418.5 167.4,418.5 168,418.5 168.6,418.5 169.2,418.5 169.8,418.5 170.4,418.5 171,418.5" fill="none" stroke="#171930" stroke-width="1.3" stroke-linejoin="round"/>
<path d="M97,501.9 L97,501.9 97.6,501.9 98.2,501.8 98.8,501.2 99.4,501.7 100,500.8 100.6,500.9 101.2,500.8 101.8,500.3 102.4,501 103,499.9 103.6,499.2 104.2,498.8 104.8,499.4 105.4,498.4 106,498 106.6,498.4 107.2,497.5 107.8,497.1 108.4,495.7 109,495.8 109.6,496.9 110.2,496 110.8,494.4 111.4,494.3 112,494 112.6,493.4 113.2,493.9 113.8,493.8 114.4,492.2 115,491.2 115.6,490.3 116.2,491.1 116.8,488.2 117.4,489.4 118,488.3 118.6,487.4 119.2,486.5 119.8,485 120.4,482.4 121,485 121.6,479.6 122.2,479 122.8,477.4 123.4,475.8 124,476 124.6,475.1 125.2,470.7 125.8,468.3 126.4,467.4 127,470.4 127.6,471.2 128.2,467.8 128.8,462.9 129.4,462.6 130,462.2 130.6,459.7 131.2,460.9 131.8,457.9 132.4,463.3 133,460.6 133.6,461.7 134.2,464.5 134.8,461.2 135.4,462.4 136,466 136.6,465 137.2,465.5 137.8,465.5 138.4,464.3 139,467.7 139.6,469.5 140.2,473.6 140.8,474.7 141.4,478.7 142,479.1 142.6,485.2 143.2,487 143.8,484.3 144.4,491.2 145,492.8 145.6,495.2 146.2,495.6 146.8,496.7 147.4,500.5 148,499.5 148.6,501.1 L148.6,501.9 Z" fill="#eae9ef"/>
<path d="M138,501.9 L138,501.9 138.6,501.9 139.2,501.8 139.8,501.7 140.4,501.6 141,501.4 141.6,501.3 142.2,501.4 142.8,500.8 143.4,500.4 144,500.1 144.6,499.6 145.2,498.7 145.8,497.3 146.4,496.5 147,495.2 147.6,493.7 148.2,492 148.8,490.4 149.4,487.5 150,486.1 150.6,482 151.2,478.3 151.8,471 152.4,464.4 153,457.5 153.6,449.2 154.2,443 154.8,436.8 155.4,432.3 156,428.2 156.6,425 157.2,425.4 157.8,426.1 158.4,425.9 159,428.1 159.6,429.5 160.2,431 160.8,429.8 161.4,429.7 162,432.7 162.6,433.8 163.2,445.1 163.8,454.1 164.4,460.6 165,470.7 165.6,477.3 166.2,484.7 166.8,489.6 167.4,494.2 168,498.2 168.6,499.7 169.2,500.8 169.8,501.4 170.4,501.7 171,501.8 171.6,501.9 L171.6,501.9 Z" fill="#7f9edb" stroke="#4565ae" stroke-width="1" stroke-linejoin="round"/>
<path d="M66,501.4 66.6,501.5 67.2,501.5 67.8,501.5 68.4,501.6 69,501.8 69.6,501.6 70.2,501.4 70.8,501.7 71.4,501.6 72,501.5 72.6,501.7 73.2,501.5 73.8,501.7 74.4,501.6 75,501.8 75.6,501.6 76.2,501.8 76.8,501.6 77.4,501.8 78,501.7 78.6,501.3 79.2,501.8 79.8,501.6 80.4,501.6 81,501.5 81.6,501.6 82.2,501.9 82.8,501.6 83.4,501.9 84,501.9 84.6,501.7 85.2,501.7 85.8,501.8 86.4,501.5 87,501.3 87.6,501.8 88.2,501.4 88.8,501.4 89.4,501.7 90,501.6 90.6,501.4 91.2,501.4 91.8,501.7 92.4,501.6 93,501.7 93.6,501.4 94.2,501.6 94.8,501.4 95.4,501.6 96,501.6 96.6,501.8 97.2,501.3 97.8,501.9 98.4,501.5 99,501.6 99.6,501.3 100.2,501.3 100.8,501.5 101.4,501.4 102,501.5 102.6,501.3 103.2,501.4 103.8,501.7 104.4,501.7 105,501.6 105.6,501.2 106.2,501.6 106.8,501.5 107.4,501.4 108,501.7 108.6,501 109.2,501.6 109.8,501.4 110.4,501.2 111,501.1 111.6,501.5 112.2,500.9 112.8,501.5 113.4,500.7 114,501 114.6,500.5 115.2,500.7 115.8,500.8 116.4,500.3 117,499.8 117.6,499.4 118.2,499.3 118.8,498.2 119.4,498.6 120,498.9 120.6,498.5 121.2,497.7 121.8,498.5 122.4,497.9 123,497.5 123.6,497.8 124.2,497.1 124.8,497.1 125.4,497.9 126,495.7 126.6,497 127.2,497 127.8,495.9 128.4,495.9 129,495 129.6,495.6 130.2,494.2 130.8,493 131.4,495.9 132,494.1 132.6,492.7 133.2,492.4 133.8,491.3 134.4,491.5 135,491.3 135.6,490.4 136.2,490.3 136.8,488.9 137.4,488.1 138,487.5 138.6,484.7 139.2,484.7 139.8,482.5 140.4,482.7 141,483.7 141.6,479 142.2,479.9 142.8,478.7 143.4,475.3 144,473.2 144.6,472.8 145.2,469.4 145.8,474.3 146.4,467.6 147,465.9 147.6,461 148.2,461.5 148.8,458.8 149.4,457 150,458.5 150.6,452.5 151.2,454 151.8,453.7 152.4,447 153,444.8 153.6,445 154.2,449.8 154.8,451 155.4,452.3 156,456.9 156.6,462.4 157.2,469.6 157.8,471.8 158.4,475.3 159,476.5 159.6,481.5 160.2,485.7 160.8,485.6 161.4,489.8 162,492 162.6,494.6 163.2,495.2 163.8,498.3 164.4,499.2 165,499.7 165.6,501 166.2,501.4 166.8,501.4 167.4,501.6 168,501.8 168.6,501.8 169.2,501.9 169.8,501.8 170.4,501.9 171,501.9 171.6,501.9 172.2,501.9 172.8,501.9 173.4,501.9 174,501.9 174.6,501.9 175.2,501.9 175.8,501.9 176.4,501.9 177,501.9 177.6,501.9" fill="none" stroke="#961c4c" stroke-width="1.3" stroke-linejoin="round"/>
<path d="M66,501.4 66.6,501.7 67.2,501.6 67.8,501.9 68.4,501.5 69,501.7 69.6,501.7 70.2,501.6 70.8,501.7 71.4,501.5 72,501.5 72.6,501.7 73.2,501.8 73.8,501.4 74.4,501.6 75,501.5 75.6,501.9 76.2,501.9 76.8,501.4 77.4,501.6 78,501.6 78.6,501.4 79.2,501.7 79.8,501.8 80.4,501.8 81,501.7 81.6,501.4 82.2,501.5 82.8,501.7 83.4,501.2 84,501.4 84.6,501.4 85.2,501.2 85.8,501.7 86.4,501.5 87,501.8 87.6,501.5 88.2,501.8 88.8,501.5 89.4,501.4 90,501.3 90.6,501.2 91.2,501.7 91.8,501.5 92.4,501.8 93,501.8 93.6,501.7 94.2,500.9 94.8,501.6 95.4,501.3 96,501.4 96.6,501.6 97.2,501.5 97.8,501.7 98.4,501.6 99,500.9 99.6,501.6 100.2,501.5 100.8,501.3 101.4,501.5 102,501 102.6,501.6 103.2,501.1 103.8,501.1 104.4,501.2 105,501.5 105.6,501 106.2,500.5 106.8,500.6 107.4,500.1 108,499.5 108.6,499.5 109.2,499.1 109.8,499 110.4,498.7 111,498 111.6,497.8 112.2,496.3 112.8,496.6 113.4,497 114,494.9 114.6,494.1 115.2,495.7 115.8,493.7 116.4,492.3 117,493.8 117.6,492.2 118.2,489.1 118.8,490.4 119.4,489.2 120,487.3 120.6,487.4 121.2,487.1 121.8,487.9 122.4,484.3 123,482.9 123.6,480.1 124.2,483.2 124.8,477 125.4,474.2 126,475 126.6,474 127.2,470.1 127.8,467.7 128.4,468.7 129,464.7 129.6,463.4 130.2,463.7 130.8,464.4 131.4,463.3 132,461.2 132.6,462 133.2,460.3 133.8,459.9 134.4,455.4 135,455.3 135.6,457.3 136.2,458 136.8,456.7 137.4,457.7 138,462.4 138.6,461.3 139.2,460.3 139.8,465.2 140.4,464.2 141,466.5 141.6,469.1 142.2,472 142.8,476 143.4,476.1 144,478.9 144.6,479.1 145.2,485.1 145.8,488.2 146.4,490 147,492.4 147.6,493.2 148.2,492.3 148.8,493.9 149.4,496.4 150,495 150.6,496 151.2,495.3 151.8,497.4 152.4,498.3 153,499.3 153.6,499.5 154.2,499.8 154.8,500.1 155.4,501 156,500.9 156.6,501.5 157.2,501.2 157.8,501.6 158.4,501.6 159,501.4 159.6,501.4 160.2,501.7 160.8,501.7 161.4,501.8 162,501.9 162.6,501.8 163.2,501.8 163.8,501.9 164.4,501.9 165,501.9 165.6,501.9 166.2,501.9 166.8,501.9 167.4,501.9 168,501.9 168.6,501.9 169.2,501.9 169.8,501.9 170.4,501.9 171,501.9" fill="none" stroke="#171930" stroke-width="1.3" stroke-linejoin="round"/>
<path d="M98,585.3 L98,585.3 98.6,584.9 99.2,584.6 99.8,584.7 100.4,584.8 101,584.5 101.6,583.8 102.2,583 102.8,582.9 103.4,582.8 104,582.3 104.6,582.3 105.2,582.1 105.8,581.4 106.4,580.2 107,581.6 107.6,580 108.2,580.8 108.8,580.8 109.4,580.3 110,579.9 110.6,577.6 111.2,577.7 111.8,577.5 112.4,575.8 113,576.5 113.6,576.2 114.2,576 114.8,577.4 115.4,574.5 116,574.8 116.6,573.5 117.2,574.8 117.8,570.2 118.4,570.1 119,570 119.6,568.7 120.2,565.5 120.8,565.3 121.4,567.8 122,565.9 122.6,562.3 123.2,560.9 123.8,556.7 124.4,557.9 125,550.9 125.6,551.7 126.2,549.8 126.8,550.4 127.4,546.4 128,546.9 128.6,542.2 129.2,542.1 129.8,540.6 130.4,539 131,537 131.6,537.1 132.2,533.5 132.8,533 133.4,530.1 134,531.9 134.6,530.3 135.2,531.7 135.8,530.5 136.4,531.2 137,536.3 137.6,544.4 138.2,540.7 138.8,547.9 139.4,552 140,552.3 140.6,554.5 141.2,556.8 141.8,563.1 142.4,562 143,568.2 143.6,571.8 144.2,572.5 144.8,575.2 145.4,578.8 146,579.9 146.6,579.4 147.2,580.2 147.8,583.5 148.4,583.5 149,584.9 149.6,585.1 L149.6,585.3 Z" fill="#eae9ef"/>
<path d="M110,585.3 L110,585.3 110.6,585.3 111.2,585.3 111.8,585.3 112.4,585.2 113,585.2 113.6,585.1 114.2,585 114.8,585 115.4,585.1 116,585 116.6,584.8 117.2,584.8 117.8,584.5 118.4,583.9 119,583.5 119.6,583.3 120.2,582.2 120.8,581.5 121.4,580.9 122,580.2 122.6,578.7 123.2,577.6 123.8,577 124.4,576.4 125,574.5 125.6,573.7 126.2,572.2 126.8,571.9 127.4,570.5 128,568.4 128.6,568 129.2,566 129.8,567 130.4,565.7 131,562.4 131.6,561.6 132.2,560.2 132.8,557.3 133.4,556.5 134,551.5 134.6,550.6 135.2,547.4 135.8,545.6 136.4,540.8 137,537 137.6,533.7 138.2,528.7 138.8,525.2 139.4,520.5 140,515 140.6,512 141.2,508.9 141.8,507.1 142.4,506.5 143,506.4 143.6,507.6 144.2,508.3 144.8,511.3 145.4,513.9 146,517.3 146.6,523.6 147.2,529.4 147.8,534.2 148.4,539.9 149,545.5 149.6,551.9 150.2,555.7 150.8,561.6 151.4,565 152,568.6 152.6,571 153.2,574.2 153.8,575.6 154.4,579.8 155,580 155.6,581.5 156.2,582.2 156.8,583.3 157.4,584 158,584.3 158.6,584.5 159.2,585.1 159.8,585.1 160.4,585.1 161,585.2 161.6,585.3 L161.6,585.3 Z" fill="#7f9edb" stroke="#4565ae" stroke-width="1" stroke-linejoin="round"/>
<path d="M66,585 66.6,584.8 67.2,584.9 67.8,584.6 68.4,585 69,584.7 69.6,584.9 70.2,585 70.8,585 71.4,584.8 72,585 72.6,585.1 73.2,585.1 73.8,585.3 74.4,584.9 75,585.1 75.6,585.1 76.2,585 76.8,584.7 77.4,585.2 78,585.1 78.6,584.7 79.2,584.8 79.8,585.1 80.4,584.8 81,584.8 81.6,584.9 82.2,584.9 82.8,585 83.4,585.2 84,584.9 84.6,585.1 85.2,584.8 85.8,584.9 86.4,585.2 87,585 87.6,585.3 88.2,584.7 88.8,584.9 89.4,585 90,585 90.6,584.9 91.2,584.8 91.8,584.9 92.4,584.7 93,585 93.6,584.8 94.2,585 94.8,584.6 95.4,584.8 96,584.9 96.6,584.8 97.2,584.9 97.8,584.9 98.4,584.5 99,584.8 99.6,584.8 100.2,585.1 100.8,585.2 101.4,584.7 102,584.8 102.6,584.9 103.2,584.9 103.8,584.8 104.4,585.1 105,584.9 105.6,584.7 106.2,584.5 106.8,584.8 107.4,584.6 108,584.7 108.6,584.6 109.2,584.3 109.8,584.6 110.4,583.9 111,584.8 111.6,584.3 112.2,583.8 112.8,584 113.4,583.4 114,583.7 114.6,584 115.2,584.3 115.8,584.1 116.4,583.4 117,583.7 117.6,583.7 118.2,584.7 118.8,582.7 119.4,583.2 120,583.8 120.6,580.9 121.2,581.7 121.8,581.9 122.4,580.6 123,580.8 123.6,580.8 124.2,579.2 124.8,577.5 125.4,577.4 126,579.5 126.6,575.2 127.2,574 127.8,573.3 128.4,572.3 129,572.8 129.6,570.1 130.2,570 130.8,567.2 131.4,563.8 132,562.2 132.6,565.3 133.2,558.4 133.8,560.6 134.4,558.1 135,555.8 135.6,551.5 136.2,547.6 136.8,548.2 137.4,546.1 138,543.2 138.6,540.2 139.2,542.4 139.8,539.4 140.4,541.9 141,541.9 141.6,539.5 142.2,539 142.8,537.6 143.4,532.9 144,534.5 144.6,531.7 145.2,534 145.8,530.8 146.4,530 147,530.9 147.6,531.5 148.2,531.9 148.8,533.1 149.4,535.9 150,536 150.6,536.3 151.2,543.6 151.8,547.7 152.4,547.9 153,553.5 153.6,560.1 154.2,560.6 154.8,562.6 155.4,566 156,571.5 156.6,570.7 157.2,575.6 157.8,576.9 158.4,578 159,578.3 159.6,580.7 160.2,581 160.8,582 161.4,583 162,584.3 162.6,584.6 163.2,584.8 163.8,585.2 164.4,585 165,585 165.6,584.9 166.2,585.3 166.8,585.2 167.4,585.3 168,585.2 168.6,585.3 169.2,585.3 169.8,585.3 170.4,585.3 171,585.3 171.6,585.3 172.2,585.3 172.8,585.3 173.4,585.3 174,585.3 174.6,585.3 175.2,585.3 175.8,585.3" fill="none" stroke="#961c4c" stroke-width="1.3" stroke-linejoin="round"/>
<path d="M66,584.8 66.6,584.9 67.2,585.3 67.8,584.9 68.4,584.9 69,585.2 69.6,585.1 70.2,585.1 70.8,584.6 71.4,585.2 72,585.1 72.6,585.2 73.2,585 73.8,584.8 74.4,585.1 75,585 75.6,584.8 76.2,584.8 76.8,584.8 77.4,584.8 78,584.9 78.6,584.8 79.2,585 79.8,585.3 80.4,585 81,585 81.6,584.6 82.2,585.1 82.8,585.3 83.4,584.9 84,585.1 84.6,585.1 85.2,585.1 85.8,584.8 86.4,585.3 87,584.9 87.6,584.8 88.2,585 88.8,584.9 89.4,585.1 90,584.6 90.6,584.6 91.2,584.9 91.8,584.6 92.4,584.9 93,584.7 93.6,584.9 94.2,584.8 94.8,584.9 95.4,584.7 96,584.7 96.6,585.1 97.2,584.7 97.8,584.5 98.4,584.9 99,584.5 99.6,584.4 100.2,584.5 100.8,584.9 101.4,584.3 102,583.8 102.6,584.1 103.2,584.1 103.8,584.2 104.4,583.5 105,582.4 105.6,583.5 106.2,582.5 106.8,582.4 107.4,583 108,582.2 108.6,580.9 109.2,581.2 109.8,580.5 110.4,580.5 111,579.2 111.6,581.3 112.2,578.8 112.8,579.5 113.4,577.3 114,577.7 114.6,577.4 115.2,575.9 115.8,577.8 116.4,573.3 117,573.3 117.6,571.9 118.2,573.8 118.8,571.8 119.4,567.5 120,570.7 120.6,569.4 121.2,565.7 121.8,568.1 122.4,565.9 123,561.1 123.6,560.9 124.2,558.3 124.8,556.3 125.4,557.7 126,551.9 126.6,554.6 127.2,550.2 127.8,546.8 128.4,541 129,541.2 129.6,536.6 130.2,532.7 130.8,538.2 131.4,535.4 132,528.1 132.6,526.8 133.2,529.9 133.8,525.8 134.4,523.1 135,525.6 135.6,524.7 136.2,527.9 136.8,528 137.4,530.3 138,532.3 138.6,530.4 139.2,534.3 139.8,535.6 140.4,545.9 141,548.5 141.6,552 142.2,551.3 142.8,557 143.4,559.7 144,561.9 144.6,566.2 145.2,568.4 145.8,570.6 146.4,571.3 147,573.5 147.6,576.3 148.2,577.4 148.8,579.3 149.4,579.7 150,579.6 150.6,580.3 151.2,581.9 151.8,581.5 152.4,581.7 153,582.1 153.6,582.6 154.2,582.1 154.8,581.8 155.4,583.1 156,583.1 156.6,582.2 157.2,582.6 157.8,583.4 158.4,583.4 159,584.2 159.6,583.6 160.2,584 160.8,584.8 161.4,584.5 162,584.3 162.6,584.6 163.2,584.9 163.8,584.9 164.4,584.6 165,585.1 165.6,585.1 166.2,585 166.8,585.3 167.4,585.2 168,585.2 168.6,585.3 169.2,585.3 169.8,585.3 170.4,585.3 171,585.3 171.6,585.3 172.2,585.3 172.8,585.3 173.4,585.3 174,585.3 174.6,585.3 175.2,585.3 175.8,585.3" fill="none" stroke="#171930" stroke-width="1.3" stroke-linejoin="round"/>
<path d="M368,87 L368,87 368.6,86.9 369.2,86.8 369.8,86.6 370.4,86.2 371,85.9 371.6,85.5 372.2,85.7 372.8,85.4 373.4,84.5 374,83.9 374.6,85.2 375.2,84.4 375.8,83.6 376.4,82.9 377,83.3 377.6,81.4 378.2,81.3 378.8,79.8 379.4,80.2 380,78.7 380.6,79.6 381.2,79.8 381.8,76.9 382.4,76 383,79.3 383.6,74.5 384.2,76.5 384.8,73.1 385.4,72.9 386,71.4 386.6,69.1 387.2,69.2 387.8,70.4 388.4,69.1 389,65.6 389.6,67.5 390.2,65.1 390.8,67.5 391.4,60.6 392,64.2 392.6,64.7 393.2,63.2 393.8,61.6 394.4,63.3 395,61.6 395.6,58.1 396.2,60.4 396.8,56.7 397.4,58 398,57.6 398.6,57.3 399.2,56.6 399.8,58.1 400.4,58.9 401,58.3 401.6,60.9 402.2,58.9 402.8,56.2 403.4,58 404,57.5 404.6,60.9 405.2,60.8 405.8,60.3 406.4,61.8 407,62.8 407.6,64 408.2,64.6 408.8,65.8 409.4,66.2 410,68.4 410.6,68.1 411.2,70 411.8,71.1 412.4,71.8 413,72 413.6,75 414.2,75.6 414.8,75.6 415.4,80.3 416,78.9 416.6,79.2 417.2,81.5 417.8,81.6 418.4,82.6 419,84.5 419.6,83.9 420.2,85.8 420.8,85.2 421.4,86.3 422,86.3 422.6,87 L422.6,87 Z" fill="#eae9ef"/>
<path d="M395,87 L395,87 395.6,86.8 396.2,86.7 396.8,86.6 397.4,86.4 398,86.5 398.6,86.1 399.2,86.3 399.8,85.9 400.4,85.8 401,85.8 401.6,85.6 402.2,85.5 402.8,85.1 403.4,85.3 404,85.1 404.6,85.3 405.2,85.2 405.8,85 406.4,84.9 407,85 407.6,85.1 408.2,84.9 408.8,85.3 409.4,85.3 410,85.2 410.6,84.8 411.2,84.8 411.8,84.7 412.4,84.8 413,84.5 413.6,84.9 414.2,84.8 414.8,84.6 415.4,84.7 416,84.6 416.6,84.3 417.2,84.5 417.8,84.4 418.4,83.4 419,82 419.6,80.7 420.2,79.9 420.8,78.3 421.4,75.7 422,73.1 422.6,69.4 423.2,68.3 423.8,64 424.4,63.2 425,62.6 425.6,58.6 426.2,58 426.8,56.7 427.4,52.8 428,49.8 428.6,44.6 429.2,37.6 429.8,30.8 430.4,28.9 431,24.9 431.6,23 432.2,20.3 432.8,17.4 433.4,14.1 434,10.9 434.6,9.3 435.2,8.4 435.8,8.6 436.4,8.2 437,11.8 437.6,14.3 438.2,20.3 438.8,24.8 439.4,33 440,39.5 440.6,45.1 441.2,52.9 441.8,59.6 442.4,64.5 443,71.4 443.6,74.2 444.2,77.3 444.8,80.1 445.4,81.8 446,84.2 446.6,85.3 447.2,86.4 447.8,86.5 448.4,86.8 449,86.9 449.6,87 L449.6,87 Z" fill="#7f9edb" stroke="#4565ae" stroke-width="1" stroke-linejoin="round"/>
<path d="M347,86.4 347.6,86.9 348.2,86.6 348.8,86.3 349.4,86.2 350,86.2 350.6,85.8 351.2,86.2 351.8,85.5 352.4,85.1 353,85.3 353.6,85.7 354.2,85.8 354.8,85 355.4,85.2 356,86.1 356.6,85.2 357.2,85.2 357.8,84.9 358.4,85.2 359,85.8 359.6,84.8 360.2,84.9 360.8,85.2 361.4,84.5 362,84.4 362.6,84.2 363.2,84.4 363.8,83.7 364.4,84.4 365,83.7 365.6,83.1 366.2,84 366.8,84.1 367.4,83.6 368,83.3 368.6,84.2 369.2,82.1 369.8,82.6 370.4,83.4 371,82.3 371.6,82.9 372.2,83 372.8,82.6 373.4,82.7 374,82.5 374.6,81.7 375.2,82.4 375.8,82 376.4,83.1 377,82.3 377.6,80.6 378.2,81.5 378.8,80.9 379.4,81 380,81.9 380.6,80.5 381.2,80.7 381.8,81.1 382.4,80.9 383,78.7 383.6,80.5 384.2,79.2 384.8,78.7 385.4,78.5 386,79.8 386.6,78.9 387.2,78.6 387.8,78.8 388.4,79.7 389,78.5 389.6,78.5 390.2,78.7 390.8,77.8 391.4,79.3 392,77.3 392.6,79.4 393.2,78.3 393.8,75.2 394.4,77.1 395,78.3 395.6,76.5 396.2,77.5 396.8,79 397.4,78.6 398,76.6 398.6,78.3 399.2,77.7 399.8,78.2 400.4,78.9 401,76.7 401.6,73.5 402.2,78.3 402.8,77.7 403.4,76.7 404,77.9 404.6,75.6 405.2,79.3 405.8,78.1 406.4,76.1 407,76.9 407.6,75.9 408.2,76.1 408.8,76.2 409.4,76.1 410,76 410.6,76.5 411.2,73.3 411.8,73.8 412.4,76.4 413,74.8 413.6,74.2 414.2,76.2 414.8,75.2 415.4,74.6 416,74.5 416.6,74.8 417.2,74 417.8,75.2 418.4,75.7 419,73.3 419.6,73.1 420.2,72.3 420.8,72.1 421.4,70.4 422,67.8 422.6,68.9 423.2,64.3 423.8,64.8 424.4,63.1 425,61.2 425.6,61.1 426.2,58.6 426.8,58.7 427.4,54.4 428,54.5 428.6,51.3 429.2,57.2 429.8,53.2 430.4,50.1 431,50.5 431.6,51.5 432.2,47.3 432.8,47.8 433.4,48.6 434,55.2 434.6,52.1 435.2,55.1 435.8,57.2 436.4,62.2 437,61.5 437.6,65.1 438.2,66.6 438.8,72.8 439.4,73.6 440,75.2 440.6,76.6 441.2,78.9 441.8,82.1 442.4,81.8 443,81.9 443.6,84.4 444.2,85.3 444.8,85 445.4,86.1 446,86 446.6,86.8 447.2,86.8 447.8,86.7 448.4,86.8 449,86.8 449.6,86.8 450.2,86.9 450.8,86.9 451.4,87 452,87 452.6,87 453.2,87 453.8,87" fill="none" stroke="#961c4c" stroke-width="1.3" stroke-linejoin="round"/>
<path d="M362,169.6 L362,169.6 362.6,169.6 363.2,169.3 363.8,169.2 364.4,169.3 365,168.9 365.6,167.9 366.2,168.3 366.8,167.7 367.4,168.1 368,166.8 368.6,166.5 369.2,167.5 369.8,167.2 370.4,166.8 371,165.7 371.6,166.2 372.2,165.6 372.8,165.6 373.4,164.6 374,163.1 374.6,161.7 375.2,161.5 375.8,161.6 376.4,162.3 377,160 377.6,161.3 378.2,159.2 378.8,155.4 379.4,158.3 380,160.2 380.6,157.2 381.2,155.7 381.8,155 382.4,154.7 383,151.1 383.6,152.8 384.2,152.1 384.8,152.9 385.4,149.4 386,149.7 386.6,146.7 387.2,151.7 387.8,147.3 388.4,143.4 389,144.3 389.6,143.9 390.2,147.6 390.8,144.5 391.4,146.2 392,143.1 392.6,142.4 393.2,142.1 393.8,144.3 394.4,144.1 395,140.3 395.6,140.1 396.2,139.9 396.8,140.4 397.4,139.4 398,137.5 398.6,139.4 399.2,137.9 399.8,137.3 400.4,136.8 401,139.4 401.6,138.7 402.2,135.4 402.8,133.4 403.4,139.8 404,132.1 404.6,136.3 405.2,138.7 405.8,140.2 406.4,140.8 407,140.2 407.6,140.1 408.2,141.5 408.8,146.2 409.4,142.8 410,150.7 410.6,150.9 411.2,146 411.8,151.1 412.4,153.6 413,157.3 413.6,156.4 414.2,158.4 414.8,158.2 415.4,159.4 416,163 416.6,165.7 417.2,164.7 417.8,165.9 418.4,167.4 419,167.5 419.6,169 420.2,169.1 420.8,169.3 L420.8,169.6 Z" fill="#eae9ef"/>
<path d="M385,169.6 L385,169.6 385.6,169.5 386.2,169.4 386.8,169.1 387.4,169.3 388,169.1 388.6,169 389.2,169.2 389.8,169 390.4,168.9 391,168.8 391.6,168.7 392.2,168.8 392.8,168.6 393.4,168.5 394,168.4 394.6,168.1 395.2,168.2 395.8,168.2 396.4,167.9 397,168.2 397.6,168.3 398.2,168.1 398.8,167.8 399.4,168.2 400,168 400.6,168.2 401.2,167.7 401.8,167.6 402.4,168 403,167.7 403.6,167.6 404.2,167.8 404.8,167.6 405.4,167.5 406,167.5 406.6,167.9 407.2,167.9 407.8,167.3 408.4,167.8 409,167.4 409.6,167.6 410.2,167.4 410.8,167.7 411.4,167.4 412,167 412.6,167.6 413.2,167.6 413.8,167.5 414.4,166.5 415,166.9 415.6,166.8 416.2,167.1 416.8,167.1 417.4,167 418,166.7 418.6,166.5 419.2,165.9 419.8,165.4 420.4,165.1 421,163.4 421.6,161 422.2,160.1 422.8,158.4 423.4,156.4 424,155.3 424.6,152 425.2,148.4 425.8,146.8 426.4,143.3 427,141 427.6,136.4 428.2,132.4 428.8,126.7 429.4,122.3 430,116.7 430.6,112.7 431.2,110.4 431.8,104.8 432.4,101.8 433,98.6 433.6,96.9 434.2,95.9 434.8,91.6 435.4,89.5 436,90.3 436.6,93.8 437.2,90.2 437.8,94.5 438.4,99.9 439,105.6 439.6,110.1 440.2,116.1 440.8,124.7 441.4,133.1 442,139.7 442.6,145.6 443.2,151.7 443.8,156.5 444.4,160.8 445,163.7 445.6,165.6 446.2,167.2 446.8,168.6 447.4,169.3 448,169.4 448.6,169.5 449.2,169.6 449.8,169.6 L449.8,169.6 Z" fill="#7f9edb" stroke="#4565ae" stroke-width="1" stroke-linejoin="round"/>
<path d="M347,169.1 347.6,169 348.2,169 348.8,169.1 349.4,169 350,168.6 350.6,169.1 351.2,168.9 351.8,168.6 352.4,168.7 353,169.2 353.6,168.9 354.2,168.8 354.8,168.3 355.4,168.2 356,168.8 356.6,168.8 357.2,168.5 357.8,168.6 358.4,168.7 359,168.4 359.6,168.7 360.2,168.1 360.8,168.6 361.4,167.8 362,168.1 362.6,167.5 363.2,167.6 363.8,167.5 364.4,168.3 365,167.8 365.6,167.9 366.2,167.8 366.8,167.8 367.4,167.4 368,167.9 368.6,167.9 369.2,167.7 369.8,167.5 370.4,166.1 371,167.9 371.6,166.5 372.2,166.5 372.8,166.1 373.4,166.1 374,166.8 374.6,167.5 375.2,165.9 375.8,166 376.4,167.5 377,165.9 377.6,166.6 378.2,166 378.8,166 379.4,164.3 380,165 380.6,163.7 381.2,163.4 381.8,164.5 382.4,163.9 383,161.6 383.6,161.2 384.2,162 384.8,162.2 385.4,159.2 386,159 386.6,160.3 387.2,161.3 387.8,158.3 388.4,159.9 389,158.6 389.6,157.9 390.2,156.1 390.8,157.7 391.4,156 392,155.7 392.6,157.2 393.2,156.7 393.8,158 394.4,153.2 395,156 395.6,154.4 396.2,154.1 396.8,152.9 397.4,154 398,152.7 398.6,154.9 399.2,154.9 399.8,151.8 400.4,153.4 401,150.6 401.6,152.8 402.2,152.7 402.8,154.3 403.4,153.4 404,152.9 404.6,152.6 405.2,153.8 405.8,150.8 406.4,153.6 407,153 407.6,154.6 408.2,153.8 408.8,155.6 409.4,154.6 410,153.9 410.6,157 411.2,155.8 411.8,155.4 412.4,157.4 413,157.6 413.6,155.9 414.2,159.2 414.8,158.9 415.4,159.8 416,159.4 416.6,160.6 417.2,159.8 417.8,160.8 418.4,161.9 419,160.8 419.6,162.3 420.2,160.9 420.8,160.1 421.4,159.8 422,159.1 422.6,156.4 423.2,155.9 423.8,150.4 424.4,149.3 425,148 425.6,148.1 426.2,143.8 426.8,143.5 427.4,142.8 428,135.6 428.6,136.8 429.2,137.4 429.8,130.3 430.4,132.8 431,137.2 431.6,127.9 432.2,131.5 432.8,131 433.4,128.8 434,127.4 434.6,127.4 435.2,129.9 435.8,127.2 436.4,135.6 437,140.5 437.6,145.5 438.2,147.1 438.8,150.7 439.4,152.1 440,157.2 440.6,156.5 441.2,158.3 441.8,160.2 442.4,163.1 443,165 443.6,166.2 444.2,167.3 444.8,167.8 445.4,168.9 446,169 446.6,169.4 447.2,169.3 447.8,169 448.4,169.5 449,169.5 449.6,169.5 450.2,169.5 450.8,169.6 451.4,169.6 452,169.6 452.6,169.6" fill="none" stroke="#961c4c" stroke-width="1.3" stroke-linejoin="round"/>
<path d="M370,252.8 L370,252.8 370.6,252.7 371.2,252.8 371.8,251.7 372.4,252.2 373,250.8 373.6,250.4 374.2,249.7 374.8,249.2 375.4,248.1 376,247.2 376.6,245.9 377.2,245.8 377.8,243.8 378.4,244 379,244.3 379.6,242.3 380.2,239.8 380.8,240.7 381.4,239.8 382,239.1 382.6,238.6 383.2,236.2 383.8,237.5 384.4,236.2 385,237.7 385.6,236 386.2,236.9 386.8,236.6 387.4,233.8 388,232.3 388.6,232.1 389.2,232.5 389.8,233.6 390.4,234.2 391,233.5 391.6,230.6 392.2,228 392.8,230.2 393.4,231.3 394,231.4 394.6,230.9 395.2,233.2 395.8,230.4 396.4,230.6 397,229.3 397.6,228.6 398.2,229.2 398.8,227.8 399.4,227.6 400,229.1 400.6,222.6 401.2,229.6 401.8,227.6 402.4,227.6 403,224.5 403.6,224.5 404.2,225 404.8,224.9 405.4,226.1 406,226.6 406.6,227.4 407.2,232.5 407.8,224.9 408.4,229.3 409,230.1 409.6,229.4 410.2,232.6 410.8,233.6 411.4,232.9 412,234 412.6,234.7 413.2,237.5 413.8,239.4 414.4,242.5 415,241.6 415.6,244.4 416.2,244.6 416.8,246.3 417.4,247 418,250.6 418.6,250.3 419.2,251.1 419.8,252.7 420.4,252.5 421,252.8 L421,252.8 Z" fill="#eae9ef"/>
<path d="M390,252.8 L390,252.8 390.6,252.8 391.2,252.8 391.8,252.6 392.4,252.8 393,252.4 393.6,252.5 394.2,252.4 394.8,252.3 395.4,252.3 396,252.2 396.6,252.3 397.2,251.9 397.8,252 398.4,251.8 399,251.9 399.6,251.8 400.2,251.7 400.8,251.6 401.4,251.5 402,252 402.6,251.6 403.2,251.7 403.8,251.6 404.4,251.1 405,251.2 405.6,251.5 406.2,251.3 406.8,251.2 407.4,251.1 408,251.2 408.6,251 409.2,251 409.8,251.4 410.4,251 411,250.8 411.6,250.7 412.2,250.8 412.8,250.9 413.4,251.1 414,250.6 414.6,250.6 415.2,251 415.8,250.8 416.4,250.4 417,250.3 417.6,250.4 418.2,249.7 418.8,250 419.4,249.7 420,249.3 420.6,248.6 421.2,247.5 421.8,245.9 422.4,244.7 423,242 423.6,241.3 424.2,239 424.8,236.6 425.4,235 426,231.8 426.6,229.9 427.2,225.5 427.8,221.4 428.4,217.2 429,212.4 429.6,209 430.2,204.3 430.8,198.3 431.4,194.7 432,191.1 432.6,189.4 433.2,183.1 433.8,180.8 434.4,178.2 435,175.4 435.6,172.3 436.2,175.8 436.8,175.9 437.4,179.8 438,181.1 438.6,188.2 439.2,190.7 439.8,198.7 440.4,205.8 441,209.6 441.6,215.1 442.2,221.8 442.8,227.8 443.4,232.6 444,237.5 444.6,239.9 445.2,244.7 445.8,246.4 446.4,248.9 447,250.7 447.6,251.9 448.2,252.5 448.8,252.6 449.4,252.8 450,252.8 L450,252.8 Z" fill="#7f9edb" stroke="#4565ae" stroke-width="1" stroke-linejoin="round"/>
<path d="M347,252.3 347.6,252.7 348.2,252.5 348.8,252.7 349.4,252.2 350,252 350.6,251.9 351.2,252.1 351.8,252.3 352.4,252 353,252.4 353.6,251.8 354.2,252.1 354.8,251.8 355.4,252.3 356,251.9 356.6,252.1 357.2,251.9 357.8,252.2 358.4,251.5 359,251.8 359.6,251.8 360.2,251.7 360.8,251.8 361.4,250.8 362,252.2 362.6,251.3 363.2,251 363.8,251 364.4,251.7 365,250.7 365.6,251 366.2,251.6 366.8,251.1 367.4,251.6 368,251.2 368.6,251.7 369.2,250.7 369.8,250.8 370.4,250.5 371,250.7 371.6,250.3 372.2,250.1 372.8,250 373.4,250.9 374,249.8 374.6,250.8 375.2,250.5 375.8,249.9 376.4,250.1 377,250.6 377.6,248.7 378.2,248.7 378.8,249.6 379.4,249.2 380,249.9 380.6,248.3 381.2,249.3 381.8,248.9 382.4,249 383,248.2 383.6,248 384.2,248 384.8,246.8 385.4,247.3 386,246.5 386.6,245.2 387.2,244.4 387.8,245.9 388.4,246.5 389,245.2 389.6,245.7 390.2,246.4 390.8,243.8 391.4,242.8 392,243.9 392.6,243.7 393.2,241 393.8,244.3 394.4,241.4 395,240.3 395.6,242.7 396.2,241 396.8,239.9 397.4,241.6 398,238.3 398.6,239 399.2,239.3 399.8,238.3 400.4,238.6 401,237.3 401.6,238.3 402.2,238.9 402.8,235.6 403.4,236.6 404,235.4 404.6,237.6 405.2,236.7 405.8,235.1 406.4,236.1 407,235.5 407.6,238.8 408.2,239.1 408.8,240.1 409.4,237 410,237.8 410.6,237.2 411.2,240.3 411.8,237.2 412.4,237.2 413,238.4 413.6,240.1 414.2,239.5 414.8,243 415.4,242.4 416,241.7 416.6,242.3 417.2,243.7 417.8,244.4 418.4,245.5 419,242.8 419.6,244.3 420.2,245.9 420.8,244.9 421.4,241.7 422,241.6 422.6,237.7 423.2,238.2 423.8,234.2 424.4,234.1 425,232.9 425.6,226 426.2,227.4 426.8,228.9 427.4,221.4 428,221.5 428.6,219.3 429.2,219.1 429.8,218.6 430.4,216.6 431,213.9 431.6,216.1 432.2,218.4 432.8,214.3 433.4,215.4 434,215.7 434.6,214.8 435.2,215.9 435.8,214 436.4,215.6 437,217.6 437.6,216.8 438.2,223.9 438.8,221.6 439.4,229.4 440,231.1 440.6,237.4 441.2,239.4 441.8,242.9 442.4,243.1 443,244.7 443.6,246.1 444.2,248.5 444.8,249.5 445.4,249.5 446,251.8 446.6,252.2 447.2,252.3 447.8,252.5 448.4,252.6 449,252.7 449.6,252.8 450.2,252.8 450.8,252.8 451.4,252.8 452,252.8 452.6,252.8 453.2,252.8 453.8,252.8 454.4,252.8 455,252.8 455.6,252.8" fill="none" stroke="#961c4c" stroke-width="1.3" stroke-linejoin="round"/>
<path d="M360,336.4 L360,336.4 360.6,335.7 361.2,334.9 361.8,334.8 362.4,334.9 363,334.2 363.6,333.4 364.2,333.1 364.8,332.3 365.4,331.9 366,330.8 366.6,330.7 367.2,331.3 367.8,329.7 368.4,330.5 369,327 369.6,327.9 370.2,329.4 370.8,331.9 371.4,326.8 372,329.3 372.6,327.9 373.2,327.6 373.8,328.7 374.4,326.2 375,327 375.6,326.6 376.2,326.5 376.8,324.5 377.4,325 378,323.6 378.6,324 379.2,324.9 379.8,322.5 380.4,323.1 381,321.3 381.6,323.6 382.2,322 382.8,319.8 383.4,320.6 384,320.7 384.6,317.5 385.2,320.4 385.8,319.2 386.4,319 387,316.2 387.6,314.3 388.2,316 388.8,316 389.4,313.7 390,315.6 390.6,314.4 391.2,316.7 391.8,313.7 392.4,314.7 393,312 393.6,310 394.2,311 394.8,310 395.4,308.9 396,311.3 396.6,310.8 397.2,308.4 397.8,308.5 398.4,309.2 399,307.5 399.6,306 400.2,307.3 400.8,311.1 401.4,310.2 402,312.2 402.6,309.3 403.2,309.9 403.8,309.9 404.4,308.4 405,306.7 405.6,310.1 406.2,309.7 406.8,311.3 407.4,311.3 408,312.6 408.6,310.8 409.2,313.8 409.8,311.1 410.4,312 411,314.1 411.6,315 412.2,315.5 412.8,315.6 413.4,315.6 414,316.5 414.6,318 415.2,320.3 415.8,317.4 416.4,320.5 417,319.4 417.6,324.5 418.2,324.6 418.8,327.8 419.4,329.3 420,331.9 420.6,332 421.2,333.9 421.8,335.1 422.4,335.8 423,336.4 L423,336.4 Z" fill="#eae9ef"/>
<path d="M395,336.4 L395,336.4 395.6,336.3 396.2,336.3 396.8,336.2 397.4,336.2 398,336 398.6,336 399.2,336 399.8,336 400.4,335.7 401,335.8 401.6,335.7 402.2,335.7 402.8,335.4 403.4,335.6 404,335.6 404.6,335.6 405.2,335.4 405.8,335.2 406.4,335.3 407,335.5 407.6,335.1 408.2,335 408.8,335 409.4,334.9 410,335 410.6,334.7 411.2,334.6 411.8,334.7 412.4,334.9 413,334.6 413.6,334.4 414.2,334.8 414.8,334.4 415.4,334.6 416,334.1 416.6,334.4 417.2,334.3 417.8,333.5 418.4,333.8 419,333.7 419.6,334.3 420.2,333.3 420.8,332.8 421.4,332.5 422,331.1 422.6,329 423.2,328 423.8,326.5 424.4,324.6 425,322.2 425.6,321.8 426.2,317.4 426.8,316.1 427.4,312.4 428,309.2 428.6,305.3 429.2,303.6 429.8,297.2 430.4,292.9 431,290.3 431.6,286.3 432.2,281 432.8,277.4 433.4,272 434,270.2 434.6,266.4 435.2,263.9 435.8,259.7 436.4,258.1 437,257.6 437.6,258.3 438.2,261.7 438.8,262.8 439.4,266 440,273.1 440.6,283.1 441.2,290.3 441.8,298.4 442.4,306.3 443,313.7 443.6,317.5 444.2,321.7 444.8,324.2 445.4,327.5 446,329.3 446.6,332 447.2,334.7 447.8,336 448.4,336.2 449,336.4 449.6,336.4 L449.6,336.4 Z" fill="#7f9edb" stroke="#4565ae" stroke-width="1" stroke-linejoin="round"/>
<path d="M347,335.9 347.6,335.8 348.2,335.8 348.8,336 349.4,335.9 350,335.7 350.6,336.1 351.2,335.9 351.8,335.7 352.4,335.8 353,336 353.6,335.8 354.2,335.7 354.8,335.6 355.4,335.5 356,335.7 356.6,335.8 357.2,335.3 357.8,335.3 358.4,335.5 359,335.5 359.6,335.7 360.2,335.3 360.8,335.2 361.4,335.5 362,335.1 362.6,335.3 363.2,335.6 363.8,335.8 364.4,335.2 365,335.3 365.6,335.1 366.2,335.3 366.8,334.7 367.4,334.6 368,334.2 368.6,333.9 369.2,334.2 369.8,333.8 370.4,333.6 371,333.5 371.6,333.3 372.2,333.2 372.8,333.1 373.4,333.4 374,333.6 374.6,331.7 375.2,332.2 375.8,332.1 376.4,331.9 377,331.4 377.6,331.2 378.2,331.2 378.8,332.5 379.4,332.1 380,331.2 380.6,330.5 381.2,331.1 381.8,330.3 382.4,329.5 383,328.3 383.6,328.7 384.2,327.7 384.8,328 385.4,328.8 386,329.2 386.6,328.4 387.2,328.1 387.8,326.1 388.4,326.8 389,326.1 389.6,326.9 390.2,325.8 390.8,323.8 391.4,324.4 392,322.3 392.6,324.4 393.2,323 393.8,324.8 394.4,322.5 395,322.5 395.6,322.5 396.2,322 396.8,318.7 397.4,318.2 398,318.3 398.6,320.1 399.2,319.2 399.8,319 400.4,315.9 401,316.9 401.6,317.5 402.2,315.7 402.8,316.6 403.4,317.7 404,314.2 404.6,314.9 405.2,312.6 405.8,312.7 406.4,311.9 407,312.6 407.6,311.6 408.2,309.3 408.8,311.8 409.4,312.2 410,310.9 410.6,312.9 411.2,314 411.8,311.5 412.4,313 413,315.9 413.6,318.5 414.2,319.3 414.8,319.2 415.4,321.2 416,320.4 416.6,324.1 417.2,323.3 417.8,323.3 418.4,324.9 419,325.2 419.6,327.2 420.2,327.7 420.8,328.2 421.4,327.4 422,326.3 422.6,328 423.2,326.2 423.8,327.3 424.4,327 425,326.1 425.6,323.7 426.2,323.3 426.8,322.6 427.4,320.1 428,318.8 428.6,318.3 429.2,316.7 429.8,317 430.4,316.3 431,310.9 431.6,306.8 432.2,308.2 432.8,308.8 433.4,306.9 434,308 434.6,307.1 435.2,307.3 435.8,307.6 436.4,308.4 437,312.6 437.6,315 438.2,314.5 438.8,319 439.4,318.1 440,322 440.6,324.9 441.2,325.8 441.8,329.9 442.4,329.1 443,330.8 443.6,332.8 444.2,333.6 444.8,334.4 445.4,334.9 446,335.5 446.6,336 447.2,335.9 447.8,336.3 448.4,336.3 449,336.3 449.6,336.2 450.2,336.2 450.8,336.4 451.4,336.3 452,336.4 452.6,336.4" fill="none" stroke="#961c4c" stroke-width="1.3" stroke-linejoin="round"/>
<path d="M366,419.2 L366,419.2 366.6,419.1 367.2,419 367.8,419 368.4,418.8 369,418.5 369.6,417.2 370.2,417.1 370.8,417.7 371.4,416.6 372,416.5 372.6,416.6 373.2,415.7 373.8,414 374.4,414.9 375,414.1 375.6,411.1 376.2,412.6 376.8,412.8 377.4,411.5 378,412.9 378.6,410.4 379.2,407.6 379.8,406.9 380.4,404.5 381,407 381.6,405.5 382.2,406.5 382.8,403.8 383.4,403.4 384,405.4 384.6,402 385.2,403.5 385.8,402.5 386.4,402.3 387,400.4 387.6,399.5 388.2,398.6 388.8,400.6 389.4,397.5 390,396.5 390.6,395.8 391.2,395.4 391.8,393.9 392.4,393.5 393,394.4 393.6,393.6 394.2,394.3 394.8,390.3 395.4,388.6 396,389.4 396.6,385.3 397.2,386.2 397.8,390 398.4,387.3 399,386.1 399.6,389.1 400.2,386.8 400.8,388.5 401.4,385.5 402,387.6 402.6,386.4 403.2,381.8 403.8,378.9 404.4,378.8 405,380.5 405.6,379.3 406.2,382.3 406.8,381.3 407.4,379.4 408,381.8 408.6,384.3 409.2,379.9 409.8,383.9 410.4,386.1 411,379.8 411.6,381.4 412.2,383.1 412.8,385.9 413.4,387.7 414,386 414.6,388.2 415.2,387.2 415.8,396.4 416.4,395.8 417,393.6 417.6,398 418.2,400 418.8,402.3 419.4,402 420,406.2 420.6,406.4 421.2,409.2 421.8,411.8 422.4,413.2 423,415.1 423.6,416.3 424.2,416.9 424.8,419.1 425.4,418.7 426,419.2 L426,419.2 Z" fill="#eae9ef"/>
<path d="M380,419.2 L380,419.2 380.6,419 381.2,418.9 381.8,418.7 382.4,418.5 383,418.3 383.6,417.9 384.2,418.2 384.8,417.9 385.4,417.8 386,417.4 386.6,416.9 387.2,416.8 387.8,416.9 388.4,416.7 389,416.6 389.6,416 390.2,416 390.8,415.7 391.4,416.1 392,415.7 392.6,415.7 393.2,415.6 393.8,414.9 394.4,415.9 395,415.6 395.6,415.5 396.2,414.9 396.8,415.2 397.4,414.6 398,414.8 398.6,414.7 399.2,414.8 399.8,414.5 400.4,415.2 401,414.4 401.6,414.2 402.2,414.1 402.8,413.6 403.4,414.3 404,414.4 404.6,414.2 405.2,414.1 405.8,414.3 406.4,413.8 407,413.6 407.6,413.8 408.2,414 408.8,414.2 409.4,413.8 410,414 410.6,413.6 411.2,413.7 411.8,414 412.4,414.1 413,413.8 413.6,413.6 414.2,414.1 414.8,413.8 415.4,413.3 416,413.9 416.6,414.2 417.2,415 417.8,414.3 418.4,413.4 419,413.5 419.6,414.1 420.2,413.4 420.8,412.9 421.4,413.4 422,413.6 422.6,412.9 423.2,412.5 423.8,412 424.4,410.1 425,409 425.6,407.1 426.2,403.8 426.8,400.1 427.4,395.2 428,388.2 428.6,379.8 429.2,377.4 429.8,369.7 430.4,364.5 431,361.1 431.6,356.3 432.2,353.4 432.8,349.1 433.4,345.3 434,344.9 434.6,345.1 435.2,342.6 435.8,340.1 436.4,341.5 437,340 437.6,339.5 438.2,341.7 438.8,341.7 439.4,343.4 440,349.7 440.6,358 441.2,369.6 441.8,382.9 442.4,392.3 443,399.9 443.6,404.1 444.2,408 444.8,411.9 445.4,412.7 446,415 446.6,416.5 447.2,417.7 447.8,418.4 448.4,418.9 449,419.1 449.6,419.2 L449.6,419.2 Z" fill="#7f9edb" stroke="#4565ae" stroke-width="1" stroke-linejoin="round"/>
<path d="M347,419 347.6,419 348.2,419 348.8,418.8 349.4,419.2 350,418.9 350.6,419.1 351.2,419 351.8,419.1 352.4,419 353,418.8 353.6,418.7 354.2,418.9 354.8,418.9 355.4,418.9 356,418.9 356.6,418.7 357.2,418.9 357.8,419.1 358.4,418.8 359,419.2 359.6,418.7 360.2,418.9 360.8,419.1 361.4,418.8 362,418.7 362.6,418.8 363.2,418.8 363.8,418.7 364.4,418.8 365,419 365.6,418.9 366.2,418.7 366.8,418.7 367.4,419 368,418.9 368.6,418.7 369.2,418.7 369.8,418.9 370.4,418.4 371,418.7 371.6,418.9 372.2,418.5 372.8,418.6 373.4,419 374,418.4 374.6,418.9 375.2,418.7 375.8,418.5 376.4,418.5 377,418.7 377.6,418.4 378.2,418.1 378.8,418.4 379.4,417.9 380,418 380.6,417.8 381.2,416.7 381.8,417.4 382.4,416.6 383,416.7 383.6,416.3 384.2,415.9 384.8,414.6 385.4,414.2 386,413.9 386.6,414.7 387.2,413.1 387.8,413.3 388.4,411.9 389,409.6 389.6,409.8 390.2,410.4 390.8,408.6 391.4,407.7 392,407.5 392.6,407.7 393.2,406.4 393.8,406.7 394.4,403.6 395,403.1 395.6,400.4 396.2,403.4 396.8,401.9 397.4,401.3 398,398.9 398.6,400.6 399.2,397.3 399.8,397.3 400.4,395.6 401,393.1 401.6,392.6 402.2,393.7 402.8,389.4 403.4,388.4 404,389.5 404.6,385.7 405.2,385.4 405.8,381.7 406.4,384.6 407,379.8 407.6,380.1 408.2,377.6 408.8,381.4 409.4,383.3 410,382.2 410.6,380.3 411.2,380.2 411.8,379.9 412.4,378.5 413,377.7 413.6,378.7 414.2,379 414.8,380.8 415.4,380.8 416,385.5 416.6,385.5 417.2,387.8 417.8,390.2 418.4,394.4 419,399.6 419.6,399.5 420.2,400.1 420.8,403 421.4,405.2 422,406.5 422.6,409.6 423.2,408.9 423.8,410.2 424.4,408.9 425,409 425.6,410 426.2,409.3 426.8,409 427.4,407.3 428,404.1 428.6,406.7 429.2,403.5 429.8,405.5 430.4,404.6 431,405 431.6,402.4 432.2,403 432.8,401.9 433.4,402.2 434,400.8 434.6,397.8 435.2,396.9 435.8,396.6 436.4,398.8 437,396.3 437.6,399.1 438.2,399.9 438.8,401.5 439.4,402.5 440,400.9 440.6,406.7 441.2,407.3 441.8,407.5 442.4,409.6 443,412.1 443.6,413.2 444.2,414.9 444.8,416.1 445.4,416.2 446,418.1 446.6,418.4 447.2,418.5 447.8,419 448.4,419.2 449,419.2 449.6,419.2 450.2,419.2 450.8,419.2 451.4,419.2 452,419.2 452.6,419.2 453.2,419.2 453.8,419.2 454.4,419.2 455,419.2" fill="none" stroke="#961c4c" stroke-width="1.3" stroke-linejoin="round"/>
<path d="M370,502.7 L370,502.7 370.6,502.4 371.2,502.4 371.8,502 372.4,501.8 373,501.5 373.6,501.4 374.2,500.9 374.8,500.1 375.4,499.6 376,499.5 376.6,498.8 377.2,498 377.8,497.3 378.4,497.8 379,496.5 379.6,495.5 380.2,496.1 380.8,495.5 381.4,494.7 382,494.4 382.6,493.7 383.2,494.8 383.8,492.3 384.4,491.1 385,490.6 385.6,489 386.2,491 386.8,487.5 387.4,484.8 388,485.7 388.6,484 389.2,484.3 389.8,482.9 390.4,482.4 391,484 391.6,481 392.2,481.5 392.8,481 393.4,478.6 394,478.5 394.6,476.7 395.2,479 395.8,475.3 396.4,478.2 397,475.5 397.6,475.4 398.2,475 398.8,471.3 399.4,469.8 400,468.3 400.6,471.5 401.2,474.1 401.8,464.6 402.4,469.8 403,466.1 403.6,468.4 404.2,467.4 404.8,468.5 405.4,468.8 406,467.9 406.6,469.8 407.2,466.1 407.8,469.9 408.4,465.4 409,470 409.6,468.5 410.2,463.5 410.8,471.8 411.4,469.2 412,465.3 412.6,469 413.2,468.2 413.8,470.3 414.4,474.9 415,474 415.6,474.6 416.2,474.4 416.8,476.3 417.4,478.5 418,481 418.6,480.3 419.2,486.1 419.8,485.3 420.4,485.7 421,489.7 421.6,493.3 422.2,493.8 422.8,495.2 423.4,496.9 424,499.2 424.6,501.2 425.2,501.3 425.8,502.7 L425.8,502.7 Z" fill="#eae9ef"/>
<path d="M378,502.7 L378,502.7 378.6,502.6 379.2,502.4 379.8,502.4 380.4,502.2 381,501.9 381.6,501.8 382.2,501.7 382.8,501.4 383.4,500.9 384,501.2 384.6,501.2 385.2,501 385.8,500.4 386.4,500.1 387,500.2 387.6,499.5 388.2,499.7 388.8,499.2 389.4,498.3 390,498.7 390.6,498.2 391.2,498.4 391.8,497.9 392.4,498 393,497.8 393.6,497.1 394.2,496.3 394.8,496.2 395.4,496.3 396,495.5 396.6,496.3 397.2,495.5 397.8,494.9 398.4,494.4 399,494.4 399.6,493.7 400.2,493.8 400.8,494.3 401.4,493.9 402,494.2 402.6,493.5 403.2,493.6 403.8,493.3 404.4,493.3 405,493.4 405.6,493 406.2,492 406.8,491.9 407.4,491.5 408,492.1 408.6,491.7 409.2,492.1 409.8,492.3 410.4,491.8 411,493 411.6,491.8 412.2,492.1 412.8,493.1 413.4,492.9 414,491.9 414.6,492.7 415.2,493.2 415.8,493.3 416.4,493.7 417,493.6 417.6,493.5 418.2,494.1 418.8,494.4 419.4,494.7 420,494.5 420.6,494.9 421.2,494.6 421.8,494.8 422.4,495.1 423,494.5 423.6,494.8 424.2,494.7 424.8,493.3 425.4,494 426,490.4 426.6,485.6 427.2,478.4 427.8,472.9 428.4,466.2 429,463.6 429.6,458.5 430.2,452.8 430.8,448.8 431.4,445.4 432,444.2 432.6,440.7 433.2,436.3 433.8,434.6 434.4,428.6 435,430.1 435.6,428 436.2,425 436.8,424.8 437.4,422.5 438,422 438.6,423.5 439.2,427.9 439.8,430.2 440.4,433.5 441,443.6 441.6,454.4 442.2,462.5 442.8,469.8 443.4,475.5 444,484.7 444.6,488.7 445.2,491.7 445.8,495 446.4,497.4 447,499.3 447.6,500.8 448.2,501.6 448.8,502.3 449.4,502.4 450,502.7 450.6,502.7 L450.6,502.7 Z" fill="#7f9edb" stroke="#4565ae" stroke-width="1" stroke-linejoin="round"/>
<path d="M347,502.7 347.6,502.4 348.2,502.5 348.8,502.2 349.4,502.3 350,502 350.6,502.4 351.2,502.5 351.8,502.2 352.4,502.2 353,502.2 353.6,502.5 354.2,502.2 354.8,502.3 355.4,502.4 356,502.3 356.6,502.4 357.2,502 357.8,502.1 358.4,502.1 359,502.4 359.6,502.2 360.2,502 360.8,502.7 361.4,502.1 362,502.1 362.6,502.5 363.2,501.9 363.8,502.5 364.4,502.2 365,501.9 365.6,502.6 366.2,501.8 366.8,502.2 367.4,502.1 368,501.9 368.6,502.2 369.2,502 369.8,501.6 370.4,501.8 371,502.2 371.6,501.7 372.2,502 372.8,501.9 373.4,501.5 374,501.8 374.6,501.4 375.2,501.3 375.8,500.3 376.4,500.9 377,500.2 377.6,500.6 378.2,499.2 378.8,498.8 379.4,499.4 380,499 380.6,498.5 381.2,497.8 381.8,497.8 382.4,497.1 383,496.2 383.6,496.4 384.2,495.7 384.8,495.9 385.4,495.1 386,495 386.6,493.9 387.2,493.2 387.8,491.2 388.4,491.8 389,490.8 389.6,489.5 390.2,490.1 390.8,490.6 391.4,487.1 392,489.7 392.6,484.2 393.2,485.4 393.8,482 394.4,482.9 395,483 395.6,480.7 396.2,481.1 396.8,478.9 397.4,477.8 398,479.6 398.6,473.5 399.2,474.2 399.8,471.5 400.4,470.5 401,473.5 401.6,473.8 402.2,467.8 402.8,468.6 403.4,469.2 404,465.8 404.6,468.8 405.2,464.9 405.8,469.6 406.4,462.5 407,461.6 407.6,463.1 408.2,460.3 408.8,462.2 409.4,461 410,461.3 410.6,459.5 411.2,461 411.8,455.9 412.4,460.3 413,462 413.6,461.1 414.2,462.7 414.8,461.2 415.4,465 416,463.3 416.6,467.5 417.2,472.9 417.8,473.3 418.4,473.4 419,479.2 419.6,480.9 420.2,482.5 420.8,485.1 421.4,487.5 422,490.2 422.6,490.8 423.2,490.6 423.8,493.4 424.4,492.5 425,494.2 425.6,492.4 426.2,492.1 426.8,492.2 427.4,492.8 428,492 428.6,492.5 429.2,492.1 429.8,491.6 430.4,489.3 431,490.8 431.6,488.1 432.2,488.7 432.8,488.4 433.4,488.3 434,486.8 434.6,487.6 435.2,486.4 435.8,487.7 436.4,488 437,487.6 437.6,487.9 438.2,489.1 438.8,489.8 439.4,492.6 440,492.6 440.6,494.8 441.2,494.9 441.8,496.2 442.4,497 443,499.2 443.6,499.9 444.2,499.5 444.8,501.2 445.4,500.5 446,500.3 446.6,501.8 447.2,501.7 447.8,502.1 448.4,502.6 449,502.6 449.6,502.7 450.2,502.5 450.8,502.7 451.4,502.7 452,502.5 452.6,502.6 453.2,502.7 453.8,502.7 454.4,502.7 455,502.7" fill="none" stroke="#961c4c" stroke-width="1.3" stroke-linejoin="round"/>
<path d="M375,586 L375,586 375.6,585.8 376.2,585.2 376.8,585.6 377.4,585.1 378,584.8 378.6,585 379.2,584.1 379.8,584.2 380.4,584.6 381,583.9 381.6,584.4 382.2,583.3 382.8,583.3 383.4,583.6 384,582.6 384.6,582.8 385.2,581.7 385.8,581.5 386.4,583 387,581.9 387.6,581.6 388.2,580.9 388.8,579.2 389.4,578.6 390,578.6 390.6,578.3 391.2,578 391.8,577.1 392.4,574.3 393,577.6 393.6,575.1 394.2,573.2 394.8,571.7 395.4,572.2 396,570.6 396.6,569.2 397.2,569.6 397.8,569.2 398.4,564.8 399,566 399.6,566.1 400.2,563.1 400.8,562.3 401.4,562.5 402,561.3 402.6,555.2 403.2,556.5 403.8,555.6 404.4,552.3 405,554.7 405.6,548.7 406.2,549.6 406.8,547.7 407.4,550 408,542.3 408.6,540 409.2,540.4 409.8,537.6 410.4,537.8 411,539.8 411.6,538.7 412.2,538.7 412.8,539.2 413.4,536.2 414,537.6 414.6,539.5 415.2,538.9 415.8,540.4 416.4,539 417,540.7 417.6,546.8 418.2,546.9 418.8,552.7 419.4,549.6 420,554.1 420.6,557.3 421.2,559.2 421.8,560.4 422.4,564.3 423,567.7 423.6,569.5 424.2,569.5 424.8,578.3 425.4,576.8 426,579.8 426.6,581.8 427.2,582.5 427.8,585.5 L427.8,586 Z" fill="#eae9ef"/>
<path d="M385,586 L385,586 385.6,586 386.2,586 386.8,585.9 387.4,585.9 388,585.9 388.6,585.7 389.2,585.9 389.8,585.5 390.4,585.5 391,585.3 391.6,585.1 392.2,585.1 392.8,584.9 393.4,584.8 394,584.4 394.6,584 395.2,584.1 395.8,583.6 396.4,583 397,582.7 397.6,581.9 398.2,581.8 398.8,580.7 399.4,580.4 400,579.7 400.6,579.1 401.2,578.1 401.8,576.4 402.4,576.8 403,576.4 403.6,576.5 404.2,576.2 404.8,575 405.4,575.7 406,574.8 406.6,575 407.2,573.8 407.8,574.1 408.4,572.6 409,572.5 409.6,572.5 410.2,571.9 410.8,571.2 411.4,571.6 412,570.5 412.6,569.6 413.2,569.3 413.8,568.8 414.4,569.6 415,570.7 415.6,571.2 416.2,570 416.8,570.5 417.4,571.6 418,570.5 418.6,572.1 419.2,572.6 419.8,573.6 420.4,573.1 421,574.9 421.6,575.7 422.2,577.1 422.8,577.8 423.4,579 424,579.7 424.6,579.4 425.2,578.8 425.8,578.2 426.4,576.5 427,572.7 427.6,567 428.2,563.2 428.8,557.5 429.4,553.5 430,547.4 430.6,543.2 431.2,537.8 431.8,532 432.4,527.4 433,523.2 433.6,519.4 434.2,513.5 434.8,512.9 435.4,509.7 436,507.8 436.6,506.4 437.2,506.1 437.8,506.8 438.4,507.1 439,509.3 439.6,511.9 440.2,515.8 440.8,518.9 441.4,528 442,537.6 442.6,545.7 443.2,556.3 443.8,564.8 444.4,571 445,573.7 445.6,577.3 446.2,580.5 446.8,582.6 447.4,583.7 448,584.7 448.6,585.5 449.2,585.8 449.8,585.9 450.4,586 451,586 L451,586 Z" fill="#7f9edb" stroke="#4565ae" stroke-width="1" stroke-linejoin="round"/>
<path d="M347,585.8 347.6,585.6 348.2,585.9 348.8,585.6 349.4,585.5 350,585.8 350.6,585.6 351.2,585.7 351.8,585.9 352.4,585.7 353,585.8 353.6,585.7 354.2,585.5 354.8,585.7 355.4,585.8 356,585.7 356.6,586 357.2,585.8 357.8,585.8 358.4,585.8 359,585.4 359.6,585.5 360.2,585.4 360.8,585.7 361.4,585.7 362,585.6 362.6,585.5 363.2,585.7 363.8,585.4 364.4,585.5 365,585.3 365.6,585.4 366.2,585.3 366.8,585.6 367.4,585.5 368,585.5 368.6,585.5 369.2,585.4 369.8,585.3 370.4,585.4 371,585.2 371.6,585.8 372.2,585 372.8,585.4 373.4,585.5 374,584.9 374.6,585.3 375.2,584.5 375.8,584.9 376.4,584.7 377,583.9 377.6,584.7 378.2,584 378.8,584.1 379.4,584 380,583.9 380.6,584.1 381.2,583.3 381.8,583.6 382.4,581.6 383,582.7 383.6,582.8 384.2,582 384.8,583.1 385.4,581.8 386,581.3 386.6,580.2 387.2,581.2 387.8,580.2 388.4,579 389,579.1 389.6,578.7 390.2,577.1 390.8,576.5 391.4,576.7 392,575.7 392.6,575.6 393.2,575.6 393.8,573.9 394.4,574.7 395,568.6 395.6,570.3 396.2,569.7 396.8,567.1 397.4,565.7 398,566.2 398.6,564.4 399.2,563.7 399.8,561.6 400.4,561.3 401,558.2 401.6,558.8 402.2,557 402.8,555 403.4,555.3 404,556.5 404.6,553.7 405.2,547.1 405.8,550.1 406.4,544.9 407,545 407.6,542.5 408.2,539.9 408.8,538.1 409.4,536.3 410,536.7 410.6,537.4 411.2,531.9 411.8,533.8 412.4,535.4 413,530.2 413.6,531.2 414.2,530.2 414.8,532.4 415.4,531.4 416,535.3 416.6,534.8 417.2,538.4 417.8,538.8 418.4,543.7 419,545.9 419.6,550.4 420.2,553.2 420.8,554.8 421.4,557.1 422,561.4 422.6,563.9 423.2,563.7 423.8,565.6 424.4,569.9 425,573.8 425.6,575.7 426.2,576.6 426.8,577.1 427.4,576.9 428,576.6 428.6,578.1 429.2,577.9 429.8,579.6 430.4,579 431,578.2 431.6,579.8 432.2,579.5 432.8,579.5 433.4,580.8 434,581 434.6,580.6 435.2,580.5 435.8,581.6 436.4,582.4 437,581.7 437.6,581.9 438.2,581.9 438.8,581.5 439.4,582.5 440,582.6 440.6,582.3 441.2,584 441.8,582.8 442.4,583.2 443,582.7 443.6,583.7 444.2,583.3 444.8,583.2 445.4,583.5 446,584.4 446.6,584.4 447.2,585.4 447.8,585.6 448.4,585.2 449,586 449.6,585.4 450.2,585.6 450.8,585.5 451.4,585.9 452,585.8 452.6,586 453.2,585.9 453.8,586 454.4,586 455,586 455.6,586" fill="none" stroke="#961c4c" stroke-width="1.3" stroke-linejoin="round"/>
<line x1="66.5" y1="85.5" x2="238.5" y2="85.5" stroke="#4d4d4d" stroke-width="1.1"/>
<line x1="66.5" y1="168.9" x2="238.5" y2="168.9" stroke="#4d4d4d" stroke-width="1.1"/>
<line x1="66.5" y1="252.0" x2="238.5" y2="252.0" stroke="#4d4d4d" stroke-width="1.1"/>
<line x1="66.5" y1="335.4" x2="238.5" y2="335.4" stroke="#4d4d4d" stroke-width="1.1"/>
<line x1="66.5" y1="418.5" x2="238.5" y2="418.5" stroke="#4d4d4d" stroke-width="1.1"/>
<line x1="66.5" y1="501.9" x2="238.5" y2="501.9" stroke="#4d4d4d" stroke-width="1.1"/>
<line x1="66.5" y1="585.3" x2="238.5" y2="585.3" stroke="#4d4d4d" stroke-width="1.1"/>
<line x1="66.5" y1="0" x2="66.5" y2="590.8" stroke="#4d4d4d" stroke-width="1.1"/>
<line x1="66.8" y1="67.5" x2="66.8" y2="85.5" stroke="#2a2035" stroke-width="1.4"/>
<line x1="66.8" y1="150.9" x2="66.8" y2="168.9" stroke="#2a2035" stroke-width="1.4"/>
<line x1="66.8" y1="242.0" x2="66.8" y2="252.0" stroke="#2a2035" stroke-width="1.4"/>
<line x1="66.8" y1="327.4" x2="66.8" y2="335.4" stroke="#2a2035" stroke-width="1.4"/>
<line x1="238.5" y1="0" x2="238.5" y2="585.3" stroke="#4d4d4d" stroke-width="1.1"/>
<line x1="79.6" y1="585.3" x2="79.6" y2="588.3" stroke="#2a2a2a" stroke-width="1.1"/>
<line x1="87.3" y1="585.3" x2="87.3" y2="588.3" stroke="#2a2a2a" stroke-width="1.1"/>
<line x1="92.7" y1="585.3" x2="92.7" y2="588.3" stroke="#2a2a2a" stroke-width="1.1"/>
<line x1="96.9" y1="585.3" x2="96.9" y2="588.3" stroke="#2a2a2a" stroke-width="1.1"/>
<line x1="100.3" y1="585.3" x2="100.3" y2="588.3" stroke="#2a2a2a" stroke-width="1.1"/>
<line x1="103.3" y1="585.3" x2="103.3" y2="588.3" stroke="#2a2a2a" stroke-width="1.1"/>
<line x1="105.8" y1="585.3" x2="105.8" y2="588.3" stroke="#2a2a2a" stroke-width="1.1"/>
<line x1="108.0" y1="585.3" x2="108.0" y2="588.3" stroke="#2a2a2a" stroke-width="1.1"/>
<line x1="110.0" y1="585.3" x2="110.0" y2="590.3" stroke="#2a2a2a" stroke-width="1.1"/>
<line x1="123.1" y1="585.3" x2="123.1" y2="588.3" stroke="#2a2a2a" stroke-width="1.1"/>
<line x1="130.8" y1="585.3" x2="130.8" y2="588.3" stroke="#2a2a2a" stroke-width="1.1"/>
<line x1="136.2" y1="585.3" x2="136.2" y2="588.3" stroke="#2a2a2a" stroke-width="1.1"/>
<line x1="140.4" y1="585.3" x2="140.4" y2="588.3" stroke="#2a2a2a" stroke-width="1.1"/>
<line x1="143.8" y1="585.3" x2="143.8" y2="588.3" stroke="#2a2a2a" stroke-width="1.1"/>
<line x1="146.8" y1="585.3" x2="146.8" y2="588.3" stroke="#2a2a2a" stroke-width="1.1"/>
<line x1="149.3" y1="585.3" x2="149.3" y2="588.3" stroke="#2a2a2a" stroke-width="1.1"/>
<line x1="151.5" y1="585.3" x2="151.5" y2="588.3" stroke="#2a2a2a" stroke-width="1.1"/>
<line x1="153.5" y1="585.3" x2="153.5" y2="590.3" stroke="#2a2a2a" stroke-width="1.1"/>
<line x1="166.6" y1="585.3" x2="166.6" y2="588.3" stroke="#2a2a2a" stroke-width="1.1"/>
<line x1="174.3" y1="585.3" x2="174.3" y2="588.3" stroke="#2a2a2a" stroke-width="1.1"/>
<line x1="179.7" y1="585.3" x2="179.7" y2="588.3" stroke="#2a2a2a" stroke-width="1.1"/>
<line x1="183.9" y1="585.3" x2="183.9" y2="588.3" stroke="#2a2a2a" stroke-width="1.1"/>
<line x1="187.3" y1="585.3" x2="187.3" y2="588.3" stroke="#2a2a2a" stroke-width="1.1"/>
<line x1="190.3" y1="585.3" x2="190.3" y2="588.3" stroke="#2a2a2a" stroke-width="1.1"/>
<line x1="192.8" y1="585.3" x2="192.8" y2="588.3" stroke="#2a2a2a" stroke-width="1.1"/>
<line x1="195.0" y1="585.3" x2="195.0" y2="588.3" stroke="#2a2a2a" stroke-width="1.1"/>
<line x1="197.0" y1="585.3" x2="197.0" y2="590.3" stroke="#2a2a2a" stroke-width="1.1"/>
<line x1="210.1" y1="585.3" x2="210.1" y2="588.3" stroke="#2a2a2a" stroke-width="1.1"/>
<line x1="217.8" y1="585.3" x2="217.8" y2="588.3" stroke="#2a2a2a" stroke-width="1.1"/>
<line x1="223.2" y1="585.3" x2="223.2" y2="588.3" stroke="#2a2a2a" stroke-width="1.1"/>
<line x1="227.4" y1="585.3" x2="227.4" y2="590.3" stroke="#2a2a2a" stroke-width="1.1"/>
<line x1="230.8" y1="585.3" x2="230.8" y2="588.3" stroke="#2a2a2a" stroke-width="1.1"/>
<line x1="233.8" y1="585.3" x2="233.8" y2="588.3" stroke="#2a2a2a" stroke-width="1.1"/>
<line x1="236.3" y1="585.3" x2="236.3" y2="588.3" stroke="#2a2a2a" stroke-width="1.1"/>
<line x1="347.5" y1="0.5" x2="519" y2="0.5" stroke="#9a9a9a" stroke-width="1"/>
<line x1="347.5" y1="87.0" x2="519" y2="87.0" stroke="#4d4d4d" stroke-width="1.1"/>
<line x1="347.5" y1="169.6" x2="519" y2="169.6" stroke="#4d4d4d" stroke-width="1.1"/>
<line x1="347.5" y1="252.8" x2="519" y2="252.8" stroke="#4d4d4d" stroke-width="1.1"/>
<line x1="347.5" y1="336.4" x2="519" y2="336.4" stroke="#4d4d4d" stroke-width="1.1"/>
<line x1="347.5" y1="419.2" x2="519" y2="419.2" stroke="#4d4d4d" stroke-width="1.1"/>
<line x1="347.5" y1="502.7" x2="519" y2="502.7" stroke="#4d4d4d" stroke-width="1.1"/>
<line x1="347.5" y1="586.0" x2="519" y2="586.0" stroke="#4d4d4d" stroke-width="1.1"/>
<line x1="347.5" y1="0" x2="347.5" y2="591.5" stroke="#4d4d4d" stroke-width="1.1"/>
<line x1="347.8" y1="49.0" x2="347.8" y2="87.0" stroke="#4a2a3a" stroke-width="1.4"/>
<line x1="347.8" y1="147.6" x2="347.8" y2="169.6" stroke="#4a2a3a" stroke-width="1.4"/>
<line x1="347.8" y1="227.8" x2="347.8" y2="252.8" stroke="#4a2a3a" stroke-width="1.4"/>
<line x1="347.8" y1="310.4" x2="347.8" y2="336.4" stroke="#4a2a3a" stroke-width="1.4"/>
<line x1="519" y1="0" x2="519" y2="586.0" stroke="#4d4d4d" stroke-width="1.1"/>
<line x1="360.6" y1="586.0" x2="360.6" y2="589.0" stroke="#2a2a2a" stroke-width="1.1"/>
<line x1="368.3" y1="586.0" x2="368.3" y2="589.0" stroke="#2a2a2a" stroke-width="1.1"/>
<line x1="373.7" y1="586.0" x2="373.7" y2="589.0" stroke="#2a2a2a" stroke-width="1.1"/>
<line x1="377.9" y1="586.0" x2="377.9" y2="589.0" stroke="#2a2a2a" stroke-width="1.1"/>
<line x1="381.3" y1="586.0" x2="381.3" y2="589.0" stroke="#2a2a2a" stroke-width="1.1"/>
<line x1="384.3" y1="586.0" x2="384.3" y2="589.0" stroke="#2a2a2a" stroke-width="1.1"/>
<line x1="386.8" y1="586.0" x2="386.8" y2="589.0" stroke="#2a2a2a" stroke-width="1.1"/>
<line x1="389.0" y1="586.0" x2="389.0" y2="589.0" stroke="#2a2a2a" stroke-width="1.1"/>
<line x1="391.0" y1="586.0" x2="391.0" y2="591.0" stroke="#2a2a2a" stroke-width="1.1"/>
<line x1="404.1" y1="586.0" x2="404.1" y2="589.0" stroke="#2a2a2a" stroke-width="1.1"/>
<line x1="411.8" y1="586.0" x2="411.8" y2="589.0" stroke="#2a2a2a" stroke-width="1.1"/>
<line x1="417.2" y1="586.0" x2="417.2" y2="589.0" stroke="#2a2a2a" stroke-width="1.1"/>
<line x1="421.4" y1="586.0" x2="421.4" y2="589.0" stroke="#2a2a2a" stroke-width="1.1"/>
<line x1="424.8" y1="586.0" x2="424.8" y2="589.0" stroke="#2a2a2a" stroke-width="1.1"/>
<line x1="427.8" y1="586.0" x2="427.8" y2="589.0" stroke="#2a2a2a" stroke-width="1.1"/>
<line x1="430.3" y1="586.0" x2="430.3" y2="589.0" stroke="#2a2a2a" stroke-width="1.1"/>
<line x1="432.5" y1="586.0" x2="432.5" y2="589.0" stroke="#2a2a2a" stroke-width="1.1"/>
<line x1="434.5" y1="586.0" x2="434.5" y2="591.0" stroke="#2a2a2a" stroke-width="1.1"/>
<line x1="447.6" y1="586.0" x2="447.6" y2="589.0" stroke="#2a2a2a" stroke-width="1.1"/>
<line x1="455.3" y1="586.0" x2="455.3" y2="589.0" stroke="#2a2a2a" stroke-width="1.1"/>
<line x1="460.7" y1="586.0" x2="460.7" y2="589.0" stroke="#2a2a2a" stroke-width="1.1"/>
<line x1="464.9" y1="586.0" x2="464.9" y2="589.0" stroke="#2a2a2a" stroke-width="1.1"/>
<line x1="468.3" y1="586.0" x2="468.3" y2="589.0" stroke="#2a2a2a" stroke-width="1.1"/>
<line x1="471.3" y1="586.0" x2="471.3" y2="589.0" stroke="#2a2a2a" stroke-width="1.1"/>
<line x1="473.8" y1="586.0" x2="473.8" y2="589.0" stroke="#2a2a2a" stroke-width="1.1"/>
<line x1="476.0" y1="586.0" x2="476.0" y2="589.0" stroke="#2a2a2a" stroke-width="1.1"/>
<line x1="478.0" y1="586.0" x2="478.0" y2="591.0" stroke="#2a2a2a" stroke-width="1.1"/>
<line x1="491.1" y1="586.0" x2="491.1" y2="589.0" stroke="#2a2a2a" stroke-width="1.1"/>
<line x1="498.8" y1="586.0" x2="498.8" y2="589.0" stroke="#2a2a2a" stroke-width="1.1"/>
<line x1="504.2" y1="586.0" x2="504.2" y2="589.0" stroke="#2a2a2a" stroke-width="1.1"/>
<line x1="508.4" y1="586.0" x2="508.4" y2="591.0" stroke="#2a2a2a" stroke-width="1.1"/>
<line x1="511.8" y1="586.0" x2="511.8" y2="589.0" stroke="#2a2a2a" stroke-width="1.1"/>
<line x1="514.8" y1="586.0" x2="514.8" y2="589.0" stroke="#2a2a2a" stroke-width="1.1"/>
<line x1="517.3" y1="586.0" x2="517.3" y2="589.0" stroke="#2a2a2a" stroke-width="1.1"/>
<text transform="translate(0.3,25.5) scale(0.91,1)" font-size="31.5" stroke="#000" stroke-width="0.55">A</text>
<text transform="translate(272.6,25.5) scale(0.96,1)" font-size="31.5" stroke="#000" stroke-width="0.55">B</text>
<text x="61.5" y="54.2" text-anchor="end" class="b lab">240</text>
<text x="342.3" y="54.2" text-anchor="end" class="b lab">240</text>
<text x="61.5" y="138.7" text-anchor="end" class="b lab">180</text>
<text x="342.3" y="138.7" text-anchor="end" class="b lab">180</text>
<text x="61.5" y="223.4" text-anchor="end" class="b lab">120</text>
<text x="342.3" y="223.4" text-anchor="end" class="b lab">120</text>
<text x="61.5" y="308.4" text-anchor="end" class="b lab">60</text>
<text x="342.3" y="308.4" text-anchor="end" class="b lab">60</text>
<text x="61.5" y="393" text-anchor="end" class="b lab">30</text>
<text x="342.3" y="393" text-anchor="end" class="b lab">30</text>
<text x="61.5" y="477.4" text-anchor="end" class="b lab">15</text>
<text x="342.3" y="477.4" text-anchor="end" class="b lab">15</text>
<text x="61.5" y="561.4" text-anchor="end" class="b lab">5</text>
<text x="342.3" y="561.4" text-anchor="end" class="b lab">5</text>
<text transform="translate(15.0,294.3) rotate(-90)" text-anchor="middle" class="b tm" textLength="106.6" lengthAdjust="spacingAndGlyphs">Time (min.)</text>
<text transform="translate(295.8,294.2) rotate(-90)" text-anchor="middle" class="b tm" textLength="106.2" lengthAdjust="spacingAndGlyphs">Time (min.)</text>
<text x="67.8" y="614.2" class="b nf" textLength="60.4" lengthAdjust="spacingAndGlyphs">NFAT1</text>
<text x="352.3" y="615" class="b nf" textLength="59.6" lengthAdjust="spacingAndGlyphs">NFAT1</text>
<line x1="142.9" y1="607.2" x2="209.4" y2="607.2" stroke="#000" stroke-width="3.2"/><path d="M229.4,607.2 L204.4,597.5 L211.4,607.2 L204.4,616.9000000000001 Z" fill="#000"/>
<line x1="428.3" y1="607.8" x2="494.79999999999995" y2="607.8" stroke="#000" stroke-width="3.2"/><path d="M514.8,607.8 L489.79999999999995,598.0999999999999 L496.79999999999995,607.8 L489.79999999999995,617.5 Z" fill="#000"/>
<text x="51.5" y="649.7" class="b lg" textLength="191.9" lengthAdjust="spacingAndGlyphs">[Ionomycin] (ng/mL)</text>
<text x="375.4" y="650" class="b lg" textLength="101.2" lengthAdjust="spacingAndGlyphs">[OVA] (pM)</text>
<rect x="71.4" y="664.6999999999999" width="24.8" height="24.8" fill="#84a3dc" stroke="#4a66ad" stroke-width="2.8"/>
<text x="110.8" y="683.8" class="r lt" textLength="33.2" lengthAdjust="spacingAndGlyphs">500</text>
<rect x="71.4" y="698.4" width="24.8" height="24.8" fill="#fff" stroke="#8c1648" stroke-width="2.8"/>
<text x="110.8" y="717.5" class="r lt" textLength="33.2" lengthAdjust="spacingAndGlyphs">250</text>
<rect x="71.4" y="731.9" width="24.8" height="24.8" fill="#fff" stroke="#1d1f48" stroke-width="2.8"/>
<text x="110.8" y="751.0" class="r lt" textLength="33.2" lengthAdjust="spacingAndGlyphs">100</text>
<rect x="70" y="763.8" width="27.6" height="27.6" fill="#e8e8e8"/>
<text x="110.8" y="784.3" class="r lt" textLength="64.8" lengthAdjust="spacingAndGlyphs">unstim.</text>
<rect x="351.79999999999995" y="664.6999999999999" width="24.8" height="24.8" fill="#84a3dc" stroke="#4a66ad" stroke-width="2.8"/>
<text x="391.6" y="683.8" class="r lt" textLength="45.0" lengthAdjust="spacingAndGlyphs">1000</text>
<rect x="351.79999999999995" y="698.4" width="24.8" height="24.8" fill="#fff" stroke="#8c1648" stroke-width="2.8"/>
<text x="391.6" y="717.5" class="r lt" textLength="22.6" lengthAdjust="spacingAndGlyphs">10</text>
<rect x="350.4" y="730.5" width="27.6" height="27.6" fill="#e8e8e8"/>
<text x="391.6" y="751.0" class="r lt" textLength="64.8" lengthAdjust="spacingAndGlyphs">unstim.</text>
</svg>
</body></html>
